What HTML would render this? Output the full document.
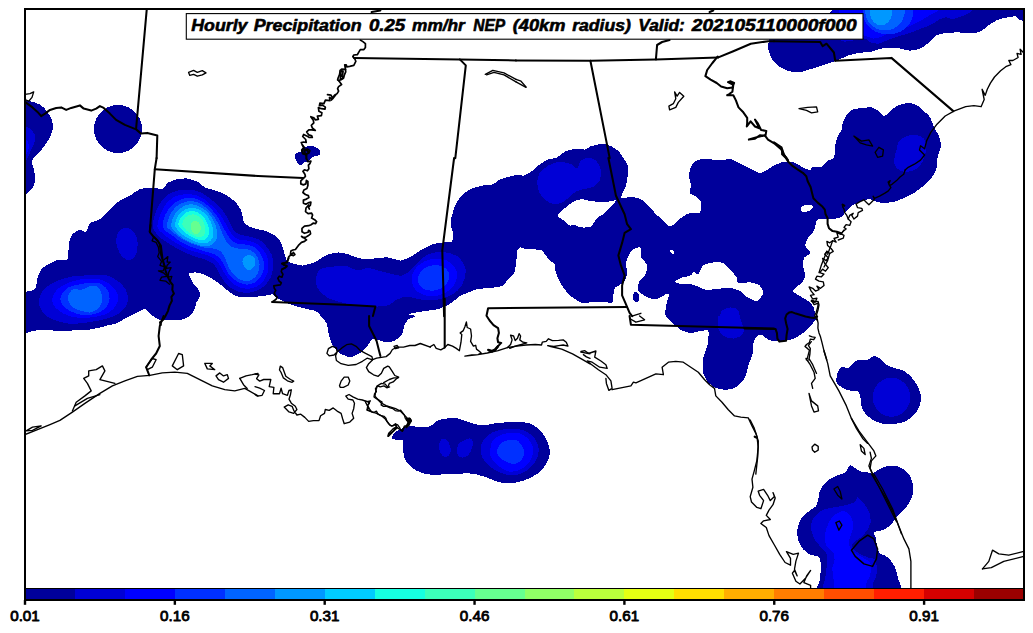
<!DOCTYPE html>
<html><head><meta charset="utf-8"><title>Hourly Precipitation NEP</title>
<style>html,body{margin:0;padding:0;background:#fff;overflow:hidden}svg{display:block}text{font-family:"Liberation Sans",sans-serif;fill:#000}</style></head><body>
<svg width="1033" height="633" viewBox="0 0 1033 633">
<rect width="1033" height="633" fill="#fff"/>
<defs><clipPath id="c"><rect x="25.0" y="9.0" width="999.0" height="579.5"/></clipPath></defs>
<g clip-path="url(#c)" shape-rendering="crispEdges">
<path d="M20.0,100.0 C22.8,100.4 31.0,101.2 35.0,102.5 C39.0,103.8 41.2,105.2 43.8,107.5 C46.2,109.8 48.5,113.1 50.0,116.0 C51.5,118.9 52.8,121.8 53.0,125.0 C53.2,128.2 52.2,131.9 51.0,135.0 C49.8,138.1 48.0,140.8 46.0,143.8 C44.0,146.7 41.1,150.1 39.0,152.5 C36.9,154.9 34.7,156.2 33.5,158.0 C32.3,159.8 31.9,161.0 32.0,163.0 C32.1,165.0 33.5,167.5 34.0,170.0 C34.5,172.5 35.2,175.2 35.0,178.0 C34.8,180.8 34.7,184.2 33.0,187.0 C31.3,189.8 27.5,193.7 25.0,195.0 C22.5,196.3 19.2,210.8 18.0,195.0 C16.8,179.2 17.7,115.8 18.0,100.0 C18.3,84.2 17.2,99.6 20.0,100.0Z" fill="#00009b"/>
<path d="M20.0,124.0 C21.8,124.7 26.6,126.3 29.0,128.0 C31.4,129.7 33.6,131.7 34.5,134.0 C35.4,136.3 35.1,139.3 34.5,142.0 C33.9,144.7 32.1,147.5 31.0,150.0 C29.9,152.5 29.0,155.1 28.0,157.0 C27.0,158.9 26.7,160.5 25.0,161.5 C23.3,162.5 19.2,169.2 18.0,163.0 C16.8,156.8 17.7,130.5 18.0,124.0 C18.3,117.5 18.2,123.3 20.0,124.0Z" fill="#0000d6"/>
<path d="M20.0,136.0 C21.3,136.5 24.5,137.5 26.0,139.0 C27.5,140.5 28.7,143.0 29.0,145.0 C29.3,147.0 28.7,149.2 28.0,151.0 C27.3,152.8 26.7,154.8 25.0,156.0 C23.3,157.2 19.2,161.3 18.0,158.0 C16.8,154.7 17.7,139.7 18.0,136.0 C18.3,132.3 18.7,135.5 20.0,136.0Z" fill="#0000ff"/>
<path d="M142.0,129.0 C142.0,131.1 141.7,133.2 141.2,135.2 C140.6,137.2 139.8,139.2 138.8,141.0 C137.7,142.8 136.4,144.5 135.0,146.0 C133.5,147.4 131.8,148.7 130.0,149.8 C128.2,150.8 126.2,151.6 124.2,152.2 C122.2,152.7 120.1,153.0 118.0,153.0 C115.9,153.0 113.8,152.7 111.8,152.2 C109.8,151.6 107.8,150.8 106.0,149.8 C104.2,148.7 102.5,147.4 101.0,146.0 C99.6,144.5 98.3,142.8 97.2,141.0 C96.2,139.2 95.4,137.2 94.8,135.2 C94.3,133.2 94.0,131.1 94.0,129.0 C94.0,126.9 94.3,124.8 94.8,122.8 C95.4,120.8 96.2,118.8 97.2,117.0 C98.3,115.2 99.6,113.5 101.0,112.0 C102.5,110.6 104.2,109.3 106.0,108.2 C107.8,107.2 109.8,106.4 111.8,105.8 C113.8,105.3 115.9,105.0 118.0,105.0 C120.1,105.0 122.2,105.3 124.2,105.8 C126.2,106.4 128.2,107.2 130.0,108.2 C131.8,109.3 133.5,110.6 135.0,112.0 C136.4,113.5 137.7,115.2 138.8,117.0 C139.8,118.8 140.6,120.8 141.2,122.8 C141.7,124.8 142.0,126.9 142.0,129.0Z" fill="#00009b"/>
<path d="M18.0,291.8 C18.8,286.8 23.0,292.0 25.0,291.8 C27.0,291.5 33.5,290.9 35.0,289.2 C36.5,287.6 36.6,280.5 37.5,278.0 C38.4,275.5 40.3,270.0 42.5,268.0 C44.7,266.0 53.3,261.5 56.2,260.5 C59.2,259.5 66.0,261.1 67.5,259.2 C69.0,257.4 68.2,247.2 68.8,244.2 C69.3,241.3 71.2,235.9 72.5,234.2 C73.8,232.6 78.4,230.3 80.0,230.0 C81.6,229.7 85.1,232.6 86.2,231.8 C87.4,230.9 88.4,224.5 90.0,223.0 C91.6,221.5 97.7,220.9 100.0,219.2 C102.3,217.6 107.7,211.4 110.0,209.2 C112.3,207.1 117.7,202.1 120.0,200.5 C122.3,198.9 127.7,196.8 130.0,195.5 C132.3,194.2 137.4,190.2 140.0,189.2 C142.6,188.3 149.9,187.5 152.5,187.5 C155.1,187.5 160.8,189.8 162.5,189.2 C164.2,188.7 165.8,184.2 167.5,183.0 C169.2,181.8 175.2,179.8 177.5,179.2 C179.8,178.7 185.2,178.2 187.5,178.5 C189.8,178.8 195.5,180.7 197.5,181.8 C199.5,182.8 203.0,186.5 205.0,187.5 C207.0,188.5 212.7,189.7 215.0,190.5 C217.3,191.3 222.7,192.9 225.0,194.2 C227.3,195.6 233.1,199.9 235.0,201.8 C236.9,203.6 240.2,208.2 241.2,210.5 C242.3,212.8 242.7,219.9 243.8,221.8 C244.8,223.6 248.3,225.9 250.0,226.8 C251.7,227.6 255.9,228.7 258.0,229.2 C260.1,229.8 265.7,230.7 268.0,231.8 C270.3,232.8 276.2,236.1 278.0,238.0 C279.8,239.9 282.0,245.4 283.0,248.0 C284.0,250.6 285.3,258.6 286.8,260.5 C288.2,262.4 293.6,263.7 295.5,264.2 C297.4,264.8 300.7,265.8 303.0,265.5 C305.3,265.2 312.9,262.9 315.5,261.8 C318.1,260.6 322.9,256.6 325.5,255.5 C328.1,254.4 335.4,252.6 338.0,252.5 C340.6,252.4 345.7,253.6 348.0,254.2 C350.3,254.9 355.7,257.4 358.0,258.0 C360.3,258.6 365.7,259.2 368.0,259.2 C370.3,259.2 375.7,258.2 378.0,258.0 C380.3,257.8 385.4,257.2 388.0,257.5 C390.6,257.8 397.9,260.6 400.5,260.5 C403.1,260.4 408.2,257.9 410.5,256.8 C412.8,255.6 417.9,252.0 420.5,250.5 C423.1,249.0 430.4,245.2 433.0,244.2 C435.6,243.3 440.8,242.8 443.0,242.5 C445.2,242.2 450.6,242.9 451.8,241.8 C452.9,240.6 453.1,235.2 453.0,233.0 C452.9,230.8 450.4,225.9 450.5,223.0 C450.6,220.1 453.1,211.1 454.2,208.0 C455.4,204.9 458.6,198.9 460.5,196.8 C462.4,194.6 467.9,190.6 470.5,189.2 C473.1,187.9 480.4,186.1 483.0,185.5 C485.6,184.9 491.0,185.0 493.0,184.2 C495.0,183.5 497.8,180.3 500.5,179.2 C503.2,178.2 513.3,175.4 516.0,175.0 C518.7,174.6 521.8,175.9 523.5,175.5 C525.2,175.1 529.2,172.9 531.0,171.8 C532.8,170.6 536.5,167.0 538.5,165.5 C540.5,164.0 546.5,160.1 548.5,159.2 C550.5,158.4 554.0,158.9 556.0,158.0 C558.0,157.1 563.7,152.3 566.0,151.2 C568.3,150.2 573.8,149.0 576.0,148.8 C578.2,148.5 583.0,149.8 584.8,149.5 C586.5,149.2 589.0,146.9 591.0,146.2 C593.0,145.6 599.9,143.8 602.2,143.8 C604.6,143.8 609.1,145.4 611.0,146.2 C612.9,147.1 617.0,149.8 618.5,151.2 C620.0,152.7 622.5,156.6 623.5,158.2 C624.5,159.9 627.0,163.3 627.5,165.0 C628.0,166.7 628.2,170.6 628.0,173.0 C627.8,175.4 626.8,182.6 626.0,185.5 C625.2,188.4 620.4,196.7 621.0,198.0 C621.6,199.3 628.7,196.6 631.0,196.8 C633.3,196.9 639.0,198.2 641.0,199.2 C643.0,200.3 646.8,203.8 648.5,205.5 C650.2,207.2 654.2,212.5 656.0,214.2 C657.8,216.0 662.0,219.1 663.5,220.5 C665.0,221.9 667.3,225.5 668.5,226.0 C669.7,226.5 672.0,225.9 673.5,225.0 C675.0,224.1 679.2,219.3 681.0,218.0 C682.8,216.7 686.3,214.1 688.5,213.5 C690.7,212.9 698.3,213.9 699.8,212.5 C701.2,211.1 701.4,203.6 701.0,201.8 C700.6,199.9 697.3,197.8 696.0,196.8 C694.7,195.7 690.3,194.3 689.8,193.0 C689.2,191.7 691.1,187.5 691.0,185.5 C690.9,183.5 688.9,178.0 689.0,175.5 C689.1,173.0 690.9,166.1 692.2,164.2 C693.6,162.4 697.6,159.7 701.0,159.2 C704.4,158.8 717.5,160.0 721.0,160.0 C724.5,160.0 728.7,158.8 731.0,159.2 C733.3,159.7 738.7,163.1 741.0,164.2 C743.3,165.4 748.8,168.2 751.0,169.2 C753.2,170.3 758.0,172.9 759.8,173.0 C761.5,173.1 764.3,171.4 766.0,170.5 C767.7,169.6 771.9,166.5 774.0,165.5 C776.1,164.5 781.7,162.1 784.0,161.8 C786.3,161.4 791.7,161.8 794.0,162.5 C796.3,163.2 802.0,167.1 804.0,168.0 C806.0,168.9 810.1,170.6 811.0,170.5 C811.9,170.4 810.3,167.9 811.5,167.5 C812.7,167.1 819.6,167.6 821.5,166.8 C823.4,165.9 826.3,161.5 827.8,160.5 C829.2,159.5 833.1,159.8 834.0,158.0 C834.9,156.2 834.8,147.5 835.2,145.0 C835.7,142.5 837.0,138.0 837.8,136.2 C838.5,134.5 840.9,131.6 841.5,130.0 C842.1,128.4 842.2,124.2 842.8,122.5 C843.3,120.8 845.5,116.5 846.5,115.0 C847.5,113.5 849.8,110.8 851.5,110.0 C853.2,109.2 859.2,108.3 861.5,108.0 C863.8,107.7 869.5,107.1 871.5,107.5 C873.5,107.9 877.5,110.2 879.0,111.2 C880.5,112.3 882.5,116.4 884.0,116.2 C885.5,116.1 889.8,111.3 891.5,110.0 C893.2,108.7 897.0,105.8 899.0,105.0 C901.0,104.2 907.0,103.0 909.0,103.0 C911.0,103.0 914.8,104.0 916.5,105.0 C918.2,106.0 922.4,109.8 924.0,111.2 C925.6,112.7 929.1,115.6 930.2,117.5 C931.4,119.4 933.0,125.3 934.0,127.5 C935.0,129.7 938.2,134.2 939.0,136.2 C939.8,138.3 941.0,143.1 941.0,145.0 C941.0,146.9 939.4,151.0 939.0,152.5 C938.6,154.0 937.8,156.2 937.5,158.0 C937.2,159.8 937.2,165.7 936.5,168.0 C935.8,170.3 933.0,176.0 931.5,178.0 C930.0,180.0 926.0,183.8 924.0,185.5 C922.0,187.2 916.3,191.5 914.0,193.0 C911.7,194.5 906.3,197.0 904.0,198.0 C901.7,199.0 896.3,201.2 894.0,201.8 C891.7,202.3 886.0,203.0 884.0,203.0 C882.0,203.0 878.2,202.2 876.5,201.8 C874.8,201.3 871.0,199.2 869.0,199.2 C867.0,199.2 861.3,200.7 859.0,201.8 C856.7,202.8 851.0,206.2 849.0,208.0 C847.0,209.8 843.5,215.4 841.5,216.8 C839.5,218.1 834.3,219.0 831.5,219.2 C828.7,219.5 819.8,217.9 817.8,219.2 C815.7,220.6 815.2,228.3 814.0,230.5 C812.8,232.7 808.8,236.2 807.8,238.0 C806.7,239.8 805.0,243.8 805.2,245.5 C805.5,247.2 810.4,251.5 810.2,253.0 C810.1,254.5 804.8,256.2 804.0,258.0 C803.2,259.8 803.4,266.0 803.5,268.0 C803.6,270.0 805.5,273.8 805.2,275.5 C805.0,277.2 803.0,281.2 801.5,283.0 C800.0,284.8 793.0,289.0 792.8,290.5 C792.5,292.0 797.1,294.2 799.0,295.5 C800.9,296.8 807.2,300.3 809.0,301.8 C810.8,303.2 813.3,306.3 814.0,308.0 C814.7,309.7 814.7,314.8 815.0,316.0 C815.3,317.2 816.9,317.0 816.5,318.0 C816.1,319.0 813.0,323.1 811.5,324.8 C810.0,326.4 806.0,330.6 804.0,332.2 C802.0,333.9 796.3,337.5 794.0,338.5 C791.7,339.5 786.3,340.7 784.0,341.0 C781.7,341.3 775.8,341.1 774.0,341.0 C772.2,340.9 769.6,340.5 768.2,339.8 C766.9,339.0 763.3,335.2 762.0,334.8 C760.7,334.3 758.0,335.0 757.0,336.0 C756.0,337.0 753.7,341.5 753.2,343.5 C752.8,345.5 753.3,350.9 752.8,353.5 C752.2,356.1 749.2,363.1 748.2,366.0 C747.3,368.9 746.0,376.0 744.5,378.5 C743.0,381.0 737.9,385.9 735.8,387.2 C733.6,388.6 728.2,389.8 725.8,389.8 C723.3,389.8 716.7,388.3 714.5,387.2 C712.3,386.2 708.4,382.9 707.0,381.0 C705.6,379.1 703.2,373.6 702.8,371.0 C702.3,368.4 702.7,361.7 703.2,358.5 C703.8,355.3 707.2,346.7 707.8,343.5 C708.3,340.3 709.1,332.5 708.2,331.0 C707.4,329.5 702.8,330.8 700.8,331.0 C698.7,331.2 693.1,333.1 690.8,333.0 C688.4,332.9 682.9,331.0 680.8,329.8 C678.6,328.5 673.8,323.9 672.0,322.2 C670.2,320.6 666.5,318.0 665.8,316.0 C665.0,314.0 665.6,307.9 666.0,305.5 C666.4,303.1 669.0,296.3 669.0,295.0 C669.0,293.7 667.5,293.8 666.0,294.2 C664.5,294.7 658.3,299.0 656.0,299.2 C653.7,299.5 648.0,297.8 646.0,296.8 C644.0,295.7 639.3,292.2 638.5,290.5 C637.7,288.8 638.3,283.5 639.0,281.8 C639.7,280.0 643.8,277.4 644.8,275.5 C645.7,273.6 647.7,267.7 647.2,265.5 C646.8,263.3 641.8,258.9 641.0,256.8 C640.2,254.7 641.2,248.5 640.5,247.5 C639.8,246.5 636.0,247.9 634.8,248.5 C633.5,249.1 630.8,251.3 629.8,253.0 C628.7,254.7 626.3,260.7 626.0,263.0 C625.7,265.3 627.4,271.0 627.2,273.0 C627.1,275.0 625.5,279.2 624.8,280.5 C624.0,281.8 622.2,283.4 621.0,284.2 C619.8,285.1 615.6,286.8 614.8,288.0 C613.9,289.2 613.8,292.6 613.5,294.2 C613.2,295.9 613.8,301.7 612.2,302.5 C610.7,303.3 602.7,301.5 600.0,301.5 C597.3,301.5 590.9,302.4 588.7,302.5 C586.5,302.6 582.6,302.9 581.0,302.5 C579.4,302.1 576.2,299.9 574.8,298.9 C573.4,297.9 569.9,295.6 568.6,294.3 C567.3,293.0 565.0,289.6 563.9,288.1 C562.8,286.6 560.3,283.2 559.3,281.1 C558.3,279.0 556.0,272.4 555.4,270.3 C554.8,268.2 554.9,264.4 554.3,263.3 C553.7,262.2 551.0,262.0 550.0,261.0 C549.0,260.0 546.4,256.1 545.3,254.8 C544.2,253.5 542.9,250.4 540.7,249.8 C538.5,249.2 529.1,249.7 526.7,249.4 C524.3,249.1 521.6,247.2 520.5,247.3 C519.4,247.4 517.8,249.0 517.4,250.1 C517.0,251.2 516.9,254.5 516.7,256.3 C516.5,258.1 516.3,263.5 515.9,265.6 C515.5,267.7 514.5,272.5 513.6,274.1 C512.7,275.7 509.5,278.3 508.2,279.6 C506.9,280.9 504.1,284.6 502.7,285.5 C501.3,286.4 497.7,287.0 495.8,287.3 C493.9,287.6 488.9,287.8 486.5,288.1 C484.1,288.4 477.8,289.1 475.6,289.6 C473.4,290.1 469.7,292.0 467.9,292.7 C466.1,293.4 461.5,295.0 460.1,295.8 C458.7,296.6 456.8,298.7 455.5,299.7 C454.2,300.7 451.1,303.3 449.3,304.3 C447.5,305.3 441.3,307.6 440.0,308.2 C438.7,308.8 440.3,308.8 438.0,309.2 C435.7,309.7 424.0,311.2 420.5,311.8 C417.0,312.3 408.6,313.8 408.0,314.2 C407.4,314.7 415.5,315.4 415.5,316.0 C415.5,316.6 409.3,318.6 408.0,319.8 C406.7,320.9 405.0,324.2 404.2,326.0 C403.5,327.8 402.9,333.0 401.8,334.8 C400.6,336.5 396.1,340.1 394.2,341.0 C392.4,341.9 387.4,342.4 385.5,342.2 C383.6,342.1 379.6,340.0 378.0,339.8 C376.4,339.5 373.2,338.7 371.8,339.8 C370.3,340.8 367.0,346.9 365.5,348.5 C364.0,350.1 361.0,352.5 359.2,353.5 C357.5,354.5 352.7,357.2 350.5,357.2 C348.3,357.2 342.5,354.8 340.5,353.5 C338.5,352.2 334.3,348.0 333.0,346.0 C331.7,344.0 330.0,338.6 329.2,336.0 C328.5,333.4 327.5,325.6 326.8,323.5 C326.0,321.4 323.7,319.4 322.5,318.0 C321.3,316.6 318.1,312.4 316.3,311.4 C314.5,310.4 309.2,309.6 307.0,309.1 C304.8,308.6 299.9,307.3 297.7,306.7 C295.5,306.1 290.2,304.3 288.4,303.6 C286.6,302.9 283.6,301.2 282.2,300.5 C280.8,299.8 277.1,298.1 276.0,297.4 C274.9,296.7 274.3,294.5 272.9,294.3 C271.5,294.1 265.9,295.6 263.6,295.9 C261.3,296.2 255.3,296.9 252.8,297.1 C250.3,297.3 244.3,297.7 242.0,297.4 C239.7,297.1 234.7,295.4 232.7,294.3 C230.7,293.2 226.7,289.6 224.9,288.2 C223.1,286.8 219.2,283.4 217.2,282.0 C215.2,280.6 210.1,277.6 207.9,276.5 C205.7,275.4 200.8,273.1 198.6,272.7 C196.4,272.3 190.0,272.3 189.3,273.4 C188.6,274.5 191.3,280.1 192.4,282.0 C193.5,283.9 197.7,288.1 198.6,289.7 C199.5,291.3 200.4,294.3 200.1,295.9 C199.8,297.5 196.6,301.6 196.0,303.0 C195.4,304.4 195.7,306.8 195.1,308.2 C194.5,309.6 192.3,313.9 190.8,315.2 C189.3,316.5 184.2,318.9 182.0,319.5 C179.8,320.1 174.0,320.3 171.6,320.4 C169.2,320.5 163.1,320.4 161.1,320.0 C159.1,319.6 155.6,317.8 154.2,316.9 C152.8,316.0 150.0,313.4 148.9,312.5 C147.8,311.6 145.6,309.2 144.6,309.0 C143.6,308.8 141.5,310.2 140.2,310.8 C138.9,311.4 135.1,313.4 133.3,314.3 C131.5,315.2 126.3,317.6 124.5,318.6 C122.7,319.6 119.6,322.2 117.6,323.0 C115.6,323.8 109.5,325.0 107.1,325.6 C104.7,326.2 99.1,327.7 96.7,328.2 C94.3,328.7 89.0,329.7 86.2,330.0 C83.4,330.3 75.6,330.4 72.3,330.5 C69.0,330.6 60.8,330.9 57.5,330.8 C54.2,330.7 47.2,330.0 44.4,330.0 C41.6,330.0 36.1,330.4 33.9,330.8 C31.7,331.2 27.1,333.0 25.2,333.4 C23.3,333.8 18.8,338.9 18.0,334.0 C17.2,329.1 17.2,296.7 18.0,291.8Z" fill="#00009b"/>
<path d="M558.0,214.2 C558.5,213.3 561.6,210.7 563.5,209.2 C565.3,207.7 571.4,202.9 573.4,201.7 C575.5,200.5 578.9,199.3 580.9,199.2 C583.0,199.1 588.3,200.6 590.9,201.0 C593.6,201.3 600.5,202.5 603.4,202.5 C606.3,202.4 615.2,199.8 615.9,200.5 C616.6,201.1 611.1,206.3 609.7,207.9 C608.2,209.6 604.9,213.0 603.4,214.2 C602.0,215.4 598.6,216.5 597.2,217.9 C595.7,219.4 592.8,225.6 590.9,226.7 C589.0,227.8 582.8,227.6 580.9,227.4 C579.0,227.2 576.0,225.2 574.7,224.9 C573.4,224.7 571.0,226.0 569.7,225.4 C568.4,224.9 564.8,221.5 563.5,220.4 C562.1,219.4 559.1,217.4 558.5,216.7 C557.8,216.0 557.4,215.1 558.0,214.2Z" fill="#fff"/>
<path d="M675.3,281.6 C675.3,280.9 679.0,278.6 680.8,277.9 C682.6,277.2 689.4,276.1 690.8,275.4 C692.3,274.7 692.4,271.8 693.3,271.6 C694.2,271.5 697.2,274.9 698.3,274.1 C699.5,273.4 701.6,266.8 703.3,265.4 C705.1,264.0 711.0,262.7 713.3,262.4 C715.6,262.1 721.2,262.0 723.3,262.9 C725.3,263.8 729.2,268.6 730.8,270.4 C732.4,272.1 736.2,276.4 737.0,277.9 C737.9,279.3 736.7,282.4 738.3,282.9 C739.9,283.4 748.3,282.1 750.8,282.4 C753.2,282.7 758.1,284.1 759.5,285.4 C761.0,286.6 763.5,291.1 763.2,292.9 C763.0,294.7 758.8,300.3 757.0,300.9 C755.3,301.4 750.2,298.9 748.3,297.9 C746.4,296.8 742.8,292.8 740.8,291.6 C738.7,290.5 733.7,288.2 730.8,287.9 C727.9,287.6 718.7,288.9 715.8,289.1 C712.9,289.4 707.8,290.2 705.8,289.9 C703.8,289.6 700.1,287.3 698.3,286.6 C696.6,285.9 692.9,284.4 690.8,284.1 C688.8,283.8 682.6,284.4 680.8,284.1 C679.0,283.8 675.3,282.4 675.3,281.6Z" fill="#fff"/>
<path d="M669.9,250.4 L672.3,249.4 L674.3,251.9 L673.3,254.4 L670.9,252.9Z" fill="#fff"/>
<path d="M801.0,207.9 C801.3,206.9 802.2,205.9 804.0,205.4 C805.7,204.9 810.0,204.5 811.5,204.9 C813.0,205.4 813.4,206.9 813.0,207.9 C812.5,208.9 810.8,210.3 809.0,210.9 C807.1,211.6 803.3,212.2 802.0,211.7 C800.6,211.2 800.6,209.0 801.0,207.9Z" fill="#fff"/>
<path d="M632.9,296.6 C633.0,295.4 633.2,293.6 633.9,292.9 C634.6,292.1 636.3,291.7 637.1,292.1 C638.0,292.5 638.6,294.0 638.9,295.4 C639.2,296.7 639.4,299.2 638.9,300.4 C638.4,301.5 636.8,302.2 635.9,302.1 C635.0,302.0 633.9,300.8 633.4,299.9 C632.9,298.9 632.8,297.8 632.9,296.6Z" fill="#00009b"/>
<path d="M152.7,227.3 C152.1,224.0 153.7,219.4 154.6,215.9 C155.6,212.5 156.8,209.5 158.4,206.4 C160.0,203.4 161.8,200.3 164.1,197.9 C166.5,195.5 169.5,193.6 172.7,192.2 C175.8,190.9 179.4,190.1 183.1,189.8 C186.7,189.4 191.0,189.6 194.5,190.3 C197.9,191.1 201.1,192.5 203.9,194.1 C206.8,195.7 209.0,197.8 211.5,199.8 C214.1,201.9 216.8,203.9 219.1,206.4 C221.5,209.0 223.9,212.1 225.8,215.0 C227.6,217.8 229.1,220.8 230.5,223.5 C231.9,226.2 232.6,229.2 234.3,231.1 C236.0,233.0 238.2,233.9 240.9,234.9 C243.6,235.8 247.4,236.0 250.4,236.8 C253.4,237.6 256.4,238.2 258.9,239.6 C261.5,241.1 263.5,242.9 265.6,245.3 C267.6,247.7 270.0,250.9 271.3,253.9 C272.5,256.9 273.0,260.2 273.2,263.3 C273.3,266.5 273.0,269.8 272.2,272.8 C271.4,275.8 270.2,278.8 268.4,281.4 C266.7,283.9 264.3,286.3 261.8,288.0 C259.3,289.7 256.3,291.0 253.2,291.8 C250.2,292.6 246.9,293.1 243.8,292.7 C240.6,292.4 237.1,291.3 234.3,289.9 C231.4,288.5 228.9,286.4 226.7,284.2 C224.5,282.0 222.6,279.1 221.0,276.6 C219.4,274.1 218.6,271.2 217.2,269.0 C215.8,266.8 214.5,264.9 212.5,263.3 C210.4,261.8 207.7,260.7 204.9,259.6 C202.0,258.4 198.6,257.8 195.4,256.7 C192.2,255.6 189.1,254.3 185.9,252.9 C182.8,251.5 179.6,249.9 176.4,248.2 C173.3,246.4 170.0,244.5 167.0,242.5 C164.0,240.4 160.8,238.4 158.4,235.8 C156.1,233.3 153.4,230.6 152.7,227.3Z" fill="#0000d6"/>
<path d="M157.5,227.3 C156.8,224.5 158.4,220.0 159.4,216.9 C160.3,213.7 161.6,211.0 163.2,208.3 C164.8,205.7 166.6,202.8 168.9,200.8 C171.1,198.7 173.6,197.1 176.4,196.0 C179.3,194.9 182.8,194.3 185.9,194.1 C189.1,194.0 192.4,194.3 195.4,195.1 C198.4,195.9 201.4,197.3 203.9,198.9 C206.5,200.4 208.4,202.5 210.6,204.6 C212.8,206.6 215.2,208.8 217.2,211.2 C219.3,213.6 221.2,216.1 222.9,218.8 C224.6,221.5 226.1,224.6 227.7,227.3 C229.2,230.0 230.5,232.8 232.4,234.9 C234.3,236.9 236.5,238.7 239.0,239.6 C241.6,240.6 244.7,239.9 247.6,240.6 C250.4,241.2 253.6,242.0 256.1,243.4 C258.6,244.9 260.9,246.9 262.7,249.1 C264.6,251.3 266.2,254.2 267.1,256.7 C268.0,259.2 268.4,261.6 268.4,264.3 C268.5,267.0 268.3,270.1 267.5,272.8 C266.7,275.5 265.3,278.3 263.7,280.4 C262.1,282.6 260.0,284.4 258.0,285.7 C255.9,287.0 253.7,287.9 251.4,288.4 C249.0,288.8 246.3,288.8 243.8,288.4 C241.2,287.9 238.6,287.0 236.2,285.7 C233.8,284.4 231.4,282.4 229.6,280.4 C227.7,278.4 226.2,276.0 224.8,273.8 C223.4,271.6 222.4,269.3 221.0,267.1 C219.6,264.9 218.3,262.4 216.3,260.5 C214.2,258.6 211.5,257.0 208.7,255.8 C205.8,254.5 202.4,253.9 199.2,252.9 C196.0,252.0 192.9,251.3 189.7,250.1 C186.6,248.8 183.4,247.1 180.2,245.3 C177.1,243.6 173.6,241.5 170.8,239.6 C167.9,237.7 165.4,236.0 163.2,233.9 C161.0,231.9 158.1,230.2 157.5,227.3Z" fill="#0000ff"/>
<path d="M162.8,227.3 C162.3,224.9 163.3,220.7 164.1,217.8 C165.0,215.0 166.3,212.6 167.9,210.2 C169.5,207.9 171.5,205.3 173.6,203.6 C175.7,201.9 177.9,200.8 180.2,199.8 C182.6,198.9 185.1,198.1 187.8,197.9 C190.5,197.8 193.7,198.1 196.4,198.9 C199.0,199.7 201.6,201.1 203.9,202.7 C206.3,204.2 208.5,206.3 210.6,208.3 C212.6,210.4 214.5,212.6 216.3,215.0 C218.0,217.4 219.6,220.0 221.0,222.6 C222.4,225.1 223.4,227.6 224.8,230.2 C226.2,232.7 227.7,235.5 229.6,237.7 C231.4,240.0 233.7,242.3 236.2,243.4 C238.7,244.5 241.9,243.8 244.7,244.4 C247.6,244.9 250.8,245.4 253.2,246.7 C255.7,247.9 257.9,250.0 259.5,252.0 C261.1,254.0 262.0,256.4 262.7,258.6 C263.5,260.8 264.1,262.9 264.1,265.2 C264.1,267.6 263.5,270.6 262.7,272.8 C262.0,275.0 260.9,276.9 259.5,278.5 C258.1,280.2 256.2,281.7 254.2,282.7 C252.2,283.7 249.8,284.5 247.6,284.6 C245.3,284.7 243.1,284.1 240.9,283.2 C238.7,282.4 236.3,281.0 234.3,279.5 C232.2,277.9 230.2,275.8 228.6,273.8 C227.0,271.7 226.1,269.5 224.8,267.1 C223.5,264.8 222.6,261.6 221.0,259.6 C219.4,257.5 217.7,256.1 215.3,254.8 C212.9,253.5 209.6,252.9 206.8,252.0 C203.9,251.0 201.3,250.1 198.3,249.1 C195.3,248.1 191.8,247.2 188.8,245.9 C185.8,244.6 182.9,243.2 180.2,241.5 C177.6,239.9 174.9,237.4 172.7,235.8 C170.4,234.3 168.6,233.5 167.0,232.1 C165.3,230.6 163.3,229.7 162.8,227.3Z" fill="#0030ff"/>
<path d="M167.0,226.4 C166.8,224.6 167.7,221.1 168.5,218.8 C169.3,216.4 170.4,214.2 171.7,212.1 C173.0,210.1 174.6,208.0 176.4,206.4 C178.3,204.9 180.9,203.5 183.1,202.7 C185.3,201.8 187.3,201.2 189.7,201.1 C192.1,201.1 194.9,201.4 197.3,202.3 C199.7,203.1 201.9,204.6 203.9,206.1 C206.0,207.6 207.8,209.2 209.6,211.2 C211.4,213.2 213.2,215.5 214.8,217.8 C216.3,220.2 217.9,222.9 219.1,225.4 C220.4,227.9 221.2,230.5 222.3,233.0 C223.4,235.5 224.2,238.3 225.8,240.6 C227.3,242.9 229.2,245.3 231.4,246.7 C233.7,248.0 236.5,248.1 239.0,248.6 C241.6,249.0 244.2,248.6 246.6,249.1 C249.0,249.7 251.4,250.5 253.2,252.0 C255.1,253.4 256.6,255.6 257.6,257.6 C258.7,259.7 259.4,261.9 259.5,264.3 C259.6,266.7 259.1,269.8 258.4,271.9 C257.6,274.0 256.5,275.6 255.2,277.0 C253.8,278.4 252.1,279.8 250.4,280.4 C248.7,281.0 246.6,281.0 244.7,280.8 C242.8,280.5 240.9,279.9 239.0,278.9 C237.2,277.9 235.3,276.4 233.7,274.7 C232.1,273.1 230.7,271.1 229.6,269.0 C228.4,267.0 227.6,264.6 226.7,262.4 C225.8,260.2 225.0,257.6 223.9,255.8 C222.8,253.9 221.8,252.2 220.1,251.0 C218.3,249.8 216.0,249.1 213.4,248.6 C210.9,248.0 207.7,248.3 204.9,247.8 C202.0,247.3 199.2,246.3 196.4,245.3 C193.5,244.4 190.5,243.4 187.8,242.1 C185.1,240.8 182.6,239.3 180.2,237.7 C177.9,236.2 175.4,234.4 173.6,233.0 C171.8,231.6 170.3,230.3 169.2,229.2 C168.1,228.1 167.1,228.1 167.0,226.4Z" fill="#0064ff"/>
<path d="M171.1,225.4 C171.1,223.7 171.9,220.8 172.7,218.8 C173.4,216.7 174.2,214.8 175.5,213.1 C176.8,211.3 178.3,209.7 180.2,208.3 C182.1,207.0 184.7,205.6 186.9,204.9 C189.1,204.3 191.3,204.2 193.5,204.6 C195.7,204.9 198.1,205.8 200.2,206.8 C202.2,207.8 204.1,209.1 205.8,210.6 C207.6,212.1 209.2,213.9 210.6,215.9 C212.0,217.9 213.4,220.4 214.4,222.6 C215.4,224.8 216.2,227.0 216.7,229.2 C217.1,231.4 217.4,233.8 217.2,235.8 C217.0,237.9 216.4,239.9 215.3,241.5 C214.2,243.1 212.5,244.5 210.6,245.3 C208.7,246.1 206.3,246.4 203.9,246.3 C201.6,246.1 198.9,245.2 196.4,244.4 C193.8,243.6 191.1,242.6 188.8,241.5 C186.4,240.4 184.2,239.2 182.1,237.7 C180.1,236.3 178.0,234.4 176.4,233.0 C174.9,231.6 173.5,230.5 172.7,229.2 C171.8,227.9 171.1,227.1 171.1,225.4Z" fill="#0098ff"/>
<path d="M174.9,225.0 C174.9,223.4 175.7,220.6 176.4,218.8 C177.2,216.9 178.0,215.5 179.3,214.0 C180.6,212.6 182.3,211.3 184.0,210.2 C185.8,209.2 187.8,208.3 189.7,208.0 C191.6,207.6 193.5,207.9 195.4,208.3 C197.3,208.8 199.4,209.6 201.1,210.6 C202.8,211.6 204.4,212.9 205.8,214.4 C207.3,215.9 208.6,217.9 209.6,219.7 C210.7,221.6 211.5,223.4 212.1,225.4 C212.7,227.5 213.4,230.0 213.4,232.1 C213.5,234.1 213.3,236.1 212.5,237.7 C211.7,239.4 210.3,241.2 208.7,242.1 C207.1,243.0 205.1,243.4 203.0,243.4 C200.9,243.4 198.6,242.8 196.4,242.1 C194.1,241.4 191.8,240.1 189.7,239.1 C187.7,238.0 185.8,237.1 184.0,235.8 C182.3,234.6 180.6,232.7 179.3,231.5 C178.0,230.2 177.2,229.3 176.4,228.3 C175.7,227.2 174.9,226.6 174.9,225.0Z" fill="#00ccff"/>
<path d="M178.3,224.5 C178.1,222.9 179.1,220.9 179.9,219.3 C180.7,217.8 181.8,216.2 183.1,215.0 C184.4,213.7 186.1,212.4 187.8,211.8 C189.6,211.1 191.7,211.0 193.5,211.2 C195.3,211.4 197.2,212.1 198.8,213.1 C200.5,214.0 202.1,215.4 203.4,216.9 C204.7,218.4 205.9,220.2 206.8,222.0 C207.7,223.8 208.3,225.8 208.7,227.7 C209.1,229.6 209.4,231.6 209.1,233.4 C208.8,235.2 208.0,237.2 206.8,238.3 C205.6,239.4 203.8,240.1 202.1,240.2 C200.3,240.3 198.3,239.7 196.4,239.1 C194.5,238.4 192.6,237.5 190.7,236.4 C188.8,235.3 186.6,233.9 185.0,232.6 C183.4,231.4 182.3,230.2 181.2,228.8 C180.1,227.5 178.6,226.0 178.3,224.5Z" fill="#16ffe1"/>
<path d="M182.1,224.5 C182.0,222.9 183.1,220.8 184.0,219.3 C185.0,217.9 186.3,216.4 187.8,215.6 C189.3,214.7 191.5,214.3 193.1,214.4 C194.8,214.5 196.2,215.0 197.7,215.9 C199.2,216.8 200.9,218.2 202.1,219.7 C203.2,221.2 204.0,223.2 204.5,225.0 C205.0,226.9 205.4,229.0 205.3,230.7 C205.2,232.4 204.9,234.2 203.9,235.3 C203.0,236.3 201.2,237.1 199.6,237.2 C198.0,237.3 196.3,236.6 194.5,235.8 C192.7,235.1 190.4,233.8 188.8,232.6 C187.2,231.4 186.1,230.2 185.0,228.8 C183.9,227.5 182.3,226.0 182.1,224.5Z" fill="#3cffba"/>
<path d="M190.7,225.4 C190.8,224.1 191.2,222.8 192.0,222.0 C192.8,221.2 194.3,220.6 195.4,220.7 C196.5,220.8 197.9,221.6 198.8,222.6 C199.7,223.5 200.5,224.9 200.7,226.4 C200.9,227.8 200.8,229.8 200.2,231.1 C199.5,232.4 198.0,233.6 196.9,233.9 C195.8,234.3 194.5,233.7 193.5,233.0 C192.6,232.3 191.7,230.8 191.2,229.6 C190.8,228.3 190.5,226.7 190.7,225.4Z" fill="#66ff90"/>
<path d="M242.4,261.4 C242.3,259.9 242.9,258.7 243.8,257.6 C244.6,256.6 246.1,255.7 247.6,255.4 C249.0,255.1 251.0,255.1 252.3,255.8 C253.6,256.4 254.7,258.1 255.2,259.6 C255.6,261.0 255.6,262.8 255.2,264.3 C254.7,265.8 253.5,267.7 252.3,268.6 C251.1,269.6 249.5,270.2 248.1,270.0 C246.8,269.7 245.3,268.6 244.3,267.1 C243.4,265.7 242.5,263.0 242.4,261.4Z" fill="#0098ff"/>
<path d="M116.1,240.4 C116.3,237.5 117.2,233.8 118.6,231.7 C120.1,229.6 122.6,228.1 124.9,227.9 C127.2,227.7 130.4,228.8 132.4,230.4 C134.4,232.1 136.0,235.0 136.9,237.9 C137.7,240.8 137.7,244.8 137.4,247.9 C137.0,251.0 136.3,254.6 134.9,256.6 C133.4,258.7 130.7,260.4 128.6,260.4 C126.5,260.4 124.2,258.5 122.4,256.6 C120.6,254.8 118.9,251.9 117.9,249.2 C116.8,246.5 116.0,243.3 116.1,240.4Z" fill="#0000d6"/>
<path d="M38.8,303.0 C38.5,300.5 39.1,298.3 40.0,296.0 C41.0,293.7 42.2,291.2 44.4,289.0 C46.6,286.8 49.9,284.7 53.1,282.9 C56.3,281.2 59.8,279.7 63.6,278.6 C67.3,277.4 71.4,276.5 75.8,275.9 C80.1,275.4 85.1,275.6 89.7,275.4 C94.3,275.2 99.6,274.2 103.6,274.7 C107.7,275.3 110.9,276.8 114.1,278.6 C117.3,280.4 120.6,283.1 122.8,285.5 C125.0,288.0 126.3,290.8 127.2,293.4 C128.0,296.0 128.1,298.7 127.7,301.2 C127.2,303.7 126.2,306.0 124.5,308.2 C122.9,310.4 120.5,312.5 117.6,314.3 C114.7,316.0 110.9,317.5 107.1,318.6 C103.3,319.8 99.0,320.5 94.9,321.2 C90.9,322.0 86.8,322.6 82.7,323.0 C78.7,323.4 74.6,324.2 70.5,323.9 C66.5,323.6 62.1,322.4 58.3,321.2 C54.6,320.1 50.6,318.6 47.9,316.9 C45.1,315.2 43.3,313.1 41.8,310.8 C40.3,308.5 39.1,305.4 38.8,303.0Z" fill="#0000d6"/>
<path d="M52.2,299.5 C52.4,297.3 53.4,294.7 54.9,292.5 C56.3,290.3 58.3,288.1 61.0,286.4 C63.6,284.7 67.2,283.2 70.5,282.1 C73.9,280.9 77.2,280.0 81.0,279.4 C84.8,278.8 89.4,278.4 93.2,278.6 C97.0,278.8 100.4,279.3 103.6,280.6 C106.8,282.0 110.0,284.1 112.3,286.4 C114.7,288.7 116.7,291.6 117.6,294.2 C118.5,296.9 118.3,299.6 117.6,302.1 C116.9,304.5 115.3,307.0 113.2,309.1 C111.2,311.1 108.7,312.9 105.4,314.3 C102.0,315.6 97.2,316.7 93.2,317.2 C89.1,317.8 85.1,318.0 81.0,317.8 C76.9,317.6 72.4,317.2 68.8,316.0 C65.2,314.9 61.7,312.5 59.2,310.8 C56.7,309.1 55.1,307.5 54.0,305.6 C52.8,303.7 52.1,301.6 52.2,299.5Z" fill="#0000ff"/>
<path d="M60.4,298.6 C60.6,296.7 61.3,294.4 62.7,292.5 C64.1,290.6 66.3,288.6 68.8,287.3 C71.3,286.0 74.0,285.4 77.5,284.7 C81.0,283.9 86.2,283.2 89.7,282.9 C93.2,282.6 95.8,282.2 98.4,282.9 C101.0,283.6 103.6,285.4 105.4,287.3 C107.2,289.2 108.6,291.8 109.2,294.2 C109.8,296.7 109.7,299.6 108.9,302.1 C108.1,304.5 106.5,307.2 104.5,309.1 C102.5,310.9 99.7,312.4 96.7,313.4 C93.6,314.4 89.7,315.1 86.2,315.1 C82.7,315.1 79.0,314.4 75.8,313.4 C72.6,312.4 69.4,310.6 67.0,309.1 C64.7,307.5 62.9,305.6 61.8,303.8 C60.7,302.1 60.3,300.5 60.4,298.6Z" fill="#0030ff"/>
<path d="M67.9,297.7 C67.9,295.8 68.6,294.0 69.7,292.5 C70.7,291.0 72.1,289.5 74.0,289.0 C75.9,288.6 78.4,290.3 81.0,289.9 C83.6,289.5 87.2,287.1 89.7,286.4 C92.2,285.7 94.0,285.2 95.8,285.9 C97.6,286.6 99.5,288.8 100.5,290.8 C101.5,292.7 101.8,295.4 101.9,297.7 C102.0,300.1 101.9,302.7 101.0,304.7 C100.1,306.7 98.6,308.3 96.7,309.6 C94.8,310.9 92.3,312.3 89.7,312.5 C87.1,312.7 83.6,311.5 81.0,310.8 C78.4,310.1 75.9,309.3 74.0,308.2 C72.1,307.0 70.7,305.6 69.7,303.8 C68.6,302.1 67.9,299.6 67.9,297.7Z" fill="#0064ff"/>
<path d="M316.7,275.4 C317.4,273.1 317.7,270.6 320.4,269.1 C323.1,267.7 328.8,267.2 332.9,266.6 C337.1,266.1 341.2,265.3 345.4,265.9 C349.6,266.5 354.2,270.1 357.9,270.4 C361.6,270.7 364.6,267.9 367.9,267.9 C371.2,267.9 373.7,269.3 377.9,270.4 C382.0,271.4 388.7,273.3 392.9,274.1 C397.0,275.0 399.5,276.4 402.9,275.4 C406.2,274.3 409.5,270.8 412.9,267.9 C416.2,265.0 419.5,260.4 422.8,257.9 C426.2,255.4 429.1,253.8 432.8,252.9 C436.6,252.0 441.1,251.8 445.3,252.4 C449.5,253.0 454.5,254.1 457.8,256.6 C461.1,259.2 464.2,263.9 465.3,267.9 C466.3,271.8 465.3,276.6 464.0,280.4 C462.8,284.1 460.5,287.7 457.8,290.4 C455.1,293.1 452.0,294.9 447.8,296.6 C443.6,298.3 437.8,299.9 432.8,300.4 C427.8,300.8 422.0,299.7 417.8,299.1 C413.7,298.5 411.2,296.6 407.9,296.6 C404.5,296.6 401.2,297.7 397.9,299.1 C394.5,300.6 392.0,304.1 387.9,305.4 C383.7,306.6 377.9,306.6 372.9,306.6 C367.9,306.6 362.9,306.0 357.9,305.4 C352.9,304.7 347.9,304.1 342.9,302.9 C337.9,301.6 331.9,299.9 327.9,297.9 C324.0,295.8 321.2,292.9 319.2,290.4 C317.2,287.9 316.4,285.4 315.9,282.9 C315.5,280.4 315.9,277.7 316.7,275.4Z" fill="#0000d6"/>
<path d="M456.5,271.4 C457.0,273.0 457.1,274.6 457.0,276.3 C456.9,277.9 456.6,279.6 456.0,281.2 C455.4,282.8 454.5,284.4 453.4,285.8 C452.4,287.3 451.0,288.7 449.6,289.9 C448.1,291.1 446.4,292.2 444.7,293.1 C443.0,294.0 441.0,294.7 439.1,295.3 C437.2,295.8 435.2,296.1 433.2,296.2 C431.2,296.3 429.2,296.2 427.4,295.8 C425.5,295.5 423.6,295.0 422.0,294.2 C420.4,293.5 418.8,292.5 417.5,291.5 C416.2,290.4 415.0,289.1 414.1,287.8 C413.2,286.4 412.5,284.9 412.1,283.3 C411.7,281.8 411.5,280.1 411.6,278.5 C411.7,276.9 412.1,275.2 412.7,273.6 C413.3,272.0 414.2,270.4 415.2,269.0 C416.3,267.5 417.6,266.1 419.1,264.9 C420.5,263.7 422.2,262.6 423.9,261.7 C425.7,260.8 427.6,260.0 429.5,259.5 C431.5,259.0 433.5,258.7 435.4,258.6 C437.4,258.5 439.4,258.6 441.3,258.9 C443.2,259.3 445.0,259.8 446.6,260.5 C448.3,261.3 449.9,262.2 451.2,263.3 C452.5,264.4 453.6,265.6 454.5,267.0 C455.4,268.4 456.1,269.9 456.5,271.4Z" fill="#0000ff"/>
<path d="M449.0,273.7 C449.3,274.8 449.4,275.9 449.3,277.0 C449.3,278.1 449.0,279.3 448.6,280.3 C448.2,281.4 447.5,282.5 446.8,283.5 C446.0,284.5 445.1,285.4 444.1,286.3 C443.1,287.1 441.9,287.9 440.7,288.5 C439.5,289.1 438.1,289.6 436.8,290.0 C435.5,290.3 434.1,290.5 432.7,290.6 C431.3,290.7 429.9,290.6 428.6,290.4 C427.4,290.2 426.1,289.8 424.9,289.3 C423.8,288.9 422.7,288.2 421.8,287.5 C420.9,286.8 420.1,285.9 419.5,285.0 C418.9,284.1 418.4,283.1 418.1,282.0 C417.8,281.0 417.7,279.9 417.8,278.8 C417.9,277.7 418.1,276.5 418.6,275.4 C419.0,274.3 419.6,273.3 420.4,272.3 C421.1,271.3 422.0,270.3 423.0,269.5 C424.1,268.7 425.2,267.9 426.4,267.3 C427.7,266.7 429.0,266.2 430.3,265.8 C431.7,265.4 433.1,265.2 434.4,265.1 C435.8,265.1 437.2,265.1 438.5,265.4 C439.8,265.6 441.1,265.9 442.2,266.4 C443.4,266.9 444.4,267.5 445.3,268.3 C446.2,269.0 447.1,269.8 447.7,270.8 C448.3,271.7 448.8,272.7 449.0,273.7Z" fill="#0030ff"/>
<path d="M537.2,183.0 C537.2,179.6 537.9,175.9 539.7,173.0 C541.6,170.1 545.1,167.4 548.5,165.5 C551.8,163.6 556.0,162.0 559.7,161.8 C563.5,161.5 568.0,163.2 571.0,164.2 C573.9,165.3 575.5,168.6 577.2,168.0 C578.9,167.4 579.1,162.2 580.9,160.5 C582.8,158.8 585.9,158.0 588.4,158.0 C590.9,158.0 593.8,158.4 595.9,160.5 C598.0,162.6 600.3,167.2 600.9,170.5 C601.5,173.8 600.9,177.8 599.7,180.5 C598.4,183.2 596.1,185.3 593.4,186.7 C590.7,188.2 586.3,188.4 583.4,189.2 C580.5,190.1 578.0,190.7 575.9,191.7 C573.9,192.8 573.0,193.8 571.0,195.5 C568.9,197.1 566.2,200.3 563.5,201.7 C560.7,203.2 557.6,204.4 554.7,204.2 C551.8,204.0 548.5,202.3 546.0,200.5 C543.5,198.6 541.2,195.9 539.7,193.0 C538.3,190.1 537.2,186.3 537.2,183.0Z" fill="#0000d6"/>
<path d="M896.5,150.0 C897.3,146.8 897.3,143.5 899.0,141.2 C900.7,139.0 903.6,137.3 906.5,136.2 C909.4,135.2 913.6,134.6 916.5,135.0 C919.4,135.4 922.3,136.7 924.0,138.8 C925.7,140.8 926.5,144.3 926.5,147.5 C926.5,150.7 925.0,155.0 924.0,158.0 C923.0,161.0 922.1,163.4 920.2,165.5 C918.4,167.6 915.5,169.5 912.8,170.5 C910.0,171.5 906.7,172.2 904.0,171.8 C901.3,171.3 898.2,169.9 896.5,168.0 C894.8,166.1 894.0,163.5 894.0,160.5 C894.0,157.5 895.7,153.2 896.5,150.0Z" fill="#0000d6"/>
<path d="M718.5,316.0 C718.3,318.0 717.7,325.2 718.5,328.5 C719.3,331.8 721.0,334.3 723.5,336.0 C726.0,337.7 730.4,338.7 733.5,338.5 C736.6,338.3 740.6,336.4 742.2,334.8 C743.9,333.1 743.7,330.8 743.5,328.5 C743.3,326.2 741.6,323.0 741.0,321.0 C740.4,319.0 740.4,318.2 739.8,316.2 C739.1,314.3 738.9,310.7 737.2,309.2 C735.6,307.8 732.2,307.3 729.8,307.5 C727.2,307.7 723.9,309.0 722.2,310.5 C720.6,312.0 720.4,315.3 719.8,316.2 C719.1,317.2 718.7,314.0 718.5,316.0Z" fill="#0000d6"/>
<path d="M295.3,154.6 C295.6,153.9 297.0,153.0 297.8,152.6 C298.6,152.2 300.5,152.1 301.3,151.6 C302.2,151.0 303.6,149.3 304.4,148.5 C305.2,147.8 306.3,146.5 307.4,146.2 C308.5,145.9 311.3,145.8 312.5,146.0 C313.7,146.2 315.6,147.0 316.5,147.5 C317.5,148.1 319.1,149.0 319.5,150.1 C319.9,151.1 320.1,154.3 319.5,155.1 C319.0,155.9 316.6,155.8 315.5,156.1 C314.4,156.5 312.3,157.1 311.5,157.6 C310.7,158.2 310.1,159.6 309.4,160.2 C308.8,160.7 307.2,161.3 306.4,161.7 C305.6,162.0 303.9,162.3 303.4,162.7 C302.8,163.1 302.9,164.4 302.4,164.7 C301.8,165.0 300.1,165.1 299.3,164.7 C298.6,164.3 297.4,162.6 296.8,161.7 C296.2,160.8 295.3,159.1 295.1,158.1 C294.9,157.2 294.9,155.4 295.3,154.6Z" fill="#00009b"/>
<path d="M392.0,436.8 C392.4,435.9 394.0,433.1 395.5,431.9 C397.0,430.8 401.2,428.8 403.2,428.1 C405.3,427.3 408.4,426.2 411.0,426.1 C413.6,426.1 420.0,427.5 422.6,427.5 C425.2,427.5 428.3,427.1 430.3,426.1 C432.4,425.2 435.8,421.4 438.1,420.3 C440.4,419.3 445.2,418.6 447.8,418.4 C450.3,418.1 455.1,418.1 457.4,418.4 C459.8,418.7 462.9,420.1 465.2,420.9 C467.5,421.7 472.3,423.6 474.9,424.2 C477.5,424.8 481.7,425.3 484.6,425.2 C487.4,425.0 493.1,423.6 496.2,423.2 C499.3,422.8 504.7,422.4 507.8,422.3 C510.9,422.1 516.6,422.1 519.4,422.3 C522.2,422.4 526.5,422.3 529.1,423.2 C531.7,424.1 536.6,427.1 538.8,429.0 C541.0,431.0 544.1,435.2 545.5,437.8 C547.0,440.3 548.9,445.9 549.4,448.4 C549.9,450.9 549.9,454.0 549.4,456.1 C548.9,458.3 547.0,462.7 545.5,464.9 C544.1,467.1 541.0,470.8 538.8,472.6 C536.6,474.4 531.9,477.1 529.1,478.4 C526.2,479.7 520.6,481.6 517.5,482.3 C514.4,482.9 508.7,483.4 505.9,483.2 C503.0,483.1 498.8,482.1 496.2,481.3 C493.6,480.5 489.1,478.3 486.5,477.4 C483.9,476.5 479.4,475.1 476.8,474.5 C474.2,474.0 469.7,473.3 467.1,473.2 C464.5,473.1 460.0,473.9 457.4,474.0 C454.9,474.0 450.6,473.4 447.8,473.6 C444.9,473.7 439.2,475.1 436.1,475.1 C433.1,475.1 427.4,474.3 424.5,473.6 C421.7,472.8 417.0,471.0 414.9,469.7 C412.7,468.4 409.5,465.6 408.1,463.9 C406.6,462.2 404.8,459.2 404.2,457.1 C403.6,455.1 403.4,450.6 403.2,448.4 C403.1,446.2 403.6,441.7 402.9,440.7 C402.1,439.6 398.8,440.5 397.4,440.3 C396.1,440.0 393.3,439.2 392.6,438.7 C391.9,438.3 391.6,437.7 392.0,436.8Z" fill="#00009b"/>
<path d="M480.7,449.4 C480.7,446.6 481.3,444.1 482.6,441.6 C483.9,439.2 486.2,436.6 488.4,434.9 C490.7,433.1 493.3,431.9 496.2,431.0 C499.1,430.0 502.3,429.4 505.9,429.0 C509.4,428.7 513.9,428.6 517.5,429.0 C521.0,429.5 524.2,430.3 527.1,431.9 C530.0,433.6 533.0,436.1 534.9,438.7 C536.8,441.3 537.9,444.5 538.4,447.4 C538.9,450.3 538.7,453.2 537.8,456.1 C536.9,459.1 535.0,462.3 533.0,464.9 C530.9,467.4 528.1,469.9 525.2,471.6 C522.3,473.3 518.8,474.6 515.5,475.1 C512.3,475.6 509.1,475.3 505.9,474.5 C502.6,473.8 499.1,472.3 496.2,470.7 C493.3,469.1 490.7,467.0 488.4,464.9 C486.2,462.8 483.9,460.7 482.6,458.1 C481.3,455.5 480.7,452.1 480.7,449.4Z" fill="#0000d6"/>
<path d="M490.0,451.3 C490.3,448.9 490.8,444.2 492.3,441.6 C493.8,439.0 496.3,437.3 499.1,435.8 C501.8,434.4 505.4,433.3 508.8,432.9 C512.1,432.5 516.2,432.3 519.4,433.3 C522.6,434.3 525.9,436.4 528.1,438.7 C530.4,441.1 532.3,444.4 533.0,447.4 C533.6,450.5 532.9,454.2 532.0,457.1 C531.0,460.0 529.2,462.7 527.1,464.9 C525.0,467.0 522.3,469.0 519.4,470.1 C516.5,471.2 512.8,472.0 509.7,471.6 C506.7,471.3 503.6,469.4 501.0,467.8 C498.4,466.1 496.0,463.9 494.2,462.0 C492.5,460.0 491.1,457.9 490.4,456.1 C489.7,454.4 489.6,453.7 490.0,451.3Z" fill="#0000ff"/>
<path d="M497.1,451.3 C497.1,449.4 497.6,447.3 499.1,445.5 C500.5,443.7 503.1,441.6 505.9,440.7 C508.6,439.7 513.1,439.2 515.5,439.7 C517.9,440.2 518.9,441.8 520.4,443.6 C521.8,445.3 523.8,448.1 524.2,450.3 C524.7,452.6 524.1,455.2 523.3,457.1 C522.5,459.1 521.0,460.8 519.4,462.0 C517.8,463.1 515.8,464.0 513.6,463.9 C511.3,463.8 508.3,462.7 505.9,461.6 C503.4,460.4 500.5,458.8 499.1,457.1 C497.6,455.4 497.1,453.2 497.1,451.3Z" fill="#0030ff"/>
<path d="M439.1,444.5 C439.3,442.8 440.0,440.7 441.0,439.7 C442.0,438.7 443.7,438.4 444.9,438.7 C446.1,439.0 447.2,440.0 448.1,441.6 C449.1,443.2 450.4,446.3 450.7,448.4 C450.9,450.5 450.5,452.8 449.7,454.2 C448.9,455.7 447.1,457.0 445.8,457.1 C444.5,457.3 443.0,456.3 442.0,455.2 C440.9,454.1 440.1,452.1 439.6,450.3 C439.1,448.6 438.8,446.3 439.1,444.5Z" fill="#0000d6"/>
<path d="M457.1,450.3 C457.2,448.6 457.4,446.1 458.4,444.5 C459.4,442.9 461.3,441.7 463.2,440.7 C465.2,439.6 468.4,438.2 470.0,438.3 C471.6,438.5 472.6,440.0 472.9,441.6 C473.3,443.3 472.8,446.1 472.0,448.4 C471.2,450.7 469.7,453.6 468.1,455.2 C466.5,456.7 464.0,457.7 462.3,457.7 C460.6,457.7 458.7,456.4 457.8,455.2 C457.0,454.0 457.0,452.1 457.1,450.3Z" fill="#0000d6"/>
<path d="M836.4,378.4 C836.6,377.1 837.0,373.7 837.7,372.2 C838.4,370.7 839.9,367.8 841.4,367.2 C842.9,366.6 847.3,368.6 848.9,367.9 C850.6,367.3 852.4,363.3 853.9,362.2 C855.4,361.1 858.3,360.0 860.2,359.7 C862.0,359.4 865.8,360.2 867.7,359.7 C869.5,359.2 872.2,356.1 873.9,356.0 C875.6,355.8 878.5,357.3 880.1,358.5 C881.8,359.6 884.6,363.4 886.4,364.7 C888.2,366.0 891.5,367.1 893.9,367.9 C896.2,368.8 901.5,369.7 903.9,370.9 C906.2,372.2 909.5,375.2 911.4,377.2 C913.2,379.2 916.3,383.4 917.6,385.9 C918.9,388.4 920.5,393.4 920.9,395.9 C921.2,398.4 920.7,402.5 920.1,404.7 C919.5,406.8 917.7,410.3 916.4,412.1 C915.0,414.0 912.1,417.0 910.1,418.4 C908.1,419.8 903.9,422.2 901.4,422.9 C898.9,423.6 894.0,423.8 891.4,423.9 C888.7,424.0 883.9,424.0 881.4,423.4 C878.9,422.8 874.8,421.0 872.6,419.6 C870.5,418.3 866.7,415.2 865.2,413.4 C863.7,411.6 862.1,408.2 861.4,405.9 C860.7,403.6 860.7,397.9 860.2,395.9 C859.7,393.9 859.2,391.7 857.7,390.9 C856.2,390.2 851.1,390.9 848.9,390.4 C846.8,389.9 843.1,388.3 841.4,387.2 C839.8,386.1 837.1,383.3 836.4,382.2 C835.8,381.0 836.3,379.8 836.4,378.4Z" fill="#00009b"/>
<path d="M910.2,397.2 C910.2,398.9 910.0,400.7 909.6,402.3 C909.1,403.9 908.5,405.5 907.7,407.0 C906.9,408.5 905.9,409.8 904.7,411.0 C903.6,412.2 902.2,413.3 900.9,414.1 C899.5,415.0 897.9,415.7 896.3,416.1 C894.8,416.5 893.1,416.8 891.5,416.8 C889.9,416.8 888.2,416.5 886.7,416.1 C885.1,415.7 883.5,415.0 882.1,414.1 C880.8,413.3 879.4,412.2 878.3,411.0 C877.1,409.8 876.1,408.5 875.3,407.0 C874.5,405.5 873.9,403.9 873.4,402.3 C873.0,400.7 872.8,398.9 872.8,397.2 C872.8,395.6 873.0,393.8 873.4,392.2 C873.9,390.6 874.5,389.0 875.3,387.5 C876.1,386.0 877.1,384.7 878.3,383.5 C879.4,382.3 880.8,381.2 882.1,380.4 C883.5,379.5 885.1,378.8 886.7,378.4 C888.2,378.0 889.9,377.8 891.5,377.8 C893.1,377.8 894.8,378.0 896.3,378.4 C897.9,378.8 899.5,379.5 900.9,380.4 C902.2,381.2 903.6,382.3 904.7,383.5 C905.9,384.7 906.9,386.0 907.7,387.5 C908.5,389.0 909.1,390.6 909.6,392.2 C910.0,393.8 910.2,395.6 910.2,397.2Z" fill="#0000d6"/>
<path d="M849.8,465.5 C848.4,466.0 847.1,471.1 845.4,472.4 C843.7,473.8 839.2,474.5 836.7,475.7 C834.2,476.9 829.0,479.3 826.9,481.2 C824.7,483.0 821.5,487.4 820.3,489.9 C819.2,492.4 818.7,497.5 818.1,499.7 C817.6,501.9 817.3,504.6 816.0,506.2 C814.7,507.8 810.4,509.9 808.3,511.7 C806.3,513.4 802.2,517.0 800.7,519.3 C799.3,521.6 797.8,526.5 797.4,529.1 C797.1,531.7 797.3,536.4 797.9,538.9 C798.5,541.4 800.3,545.6 801.8,547.6 C803.3,549.7 807.1,552.9 809.4,554.2 C811.8,555.5 817.7,555.6 819.2,557.5 C820.8,559.3 820.9,565.3 821.0,568.4 C821.0,571.4 819.9,576.3 819.7,580.3 C819.4,584.4 808.8,596.4 819.2,598.9 C829.6,601.3 887.2,601.8 897.7,598.9 C908.2,596.0 898.1,581.4 897.7,577.1 C897.3,572.7 895.7,568.8 894.4,566.2 C893.1,563.6 889.9,559.3 887.9,557.5 C885.9,555.6 880.6,554.1 879.2,552.7 C877.7,551.2 877.4,548.5 877.0,546.5 C876.6,544.6 876.3,539.7 875.9,537.8 C875.5,535.9 872.9,533.4 873.7,532.4 C874.6,531.4 880.1,531.2 882.5,530.2 C884.8,529.2 889.4,526.3 891.2,524.8 C892.9,523.2 894.1,520.0 895.5,518.2 C897.0,516.5 900.3,513.6 902.1,511.7 C903.8,509.8 907.2,506.2 908.6,504.1 C910.0,501.9 911.9,497.8 912.5,495.3 C913.1,492.9 913.3,488.0 913.0,485.5 C912.7,483.0 911.5,478.9 910.4,476.8 C909.2,474.7 906.2,471.3 904.2,469.8 C902.3,468.4 897.9,466.4 895.5,465.9 C893.2,465.4 889.0,465.9 886.8,466.3 C884.6,466.8 881.1,468.2 879.2,469.2 C877.3,470.1 874.2,473.1 872.6,473.5 C871.0,474.0 868.8,472.7 867.2,472.4 C865.6,472.1 862.2,471.9 860.6,471.4 C859.1,470.8 856.7,468.9 855.2,468.1 C853.7,467.3 851.1,464.9 849.8,465.5Z" fill="#00009b"/>
<path d="M857.4,496.9 C856.6,497.0 856.8,500.8 855.2,501.9 C853.6,503.0 848.2,504.4 845.4,505.1 C842.6,505.9 837.4,506.7 834.5,507.3 C831.6,507.9 826.1,508.5 823.6,509.5 C821.1,510.5 817.6,513.2 816.0,515.0 C814.4,516.7 812.2,520.4 811.6,522.6 C811.0,524.7 811.2,529.0 811.6,531.3 C812.0,533.6 813.6,537.8 814.9,540.0 C816.2,542.2 819.8,545.8 821.4,547.6 C823.0,549.5 826.1,552.0 826.9,554.2 C827.6,556.4 827.0,561.2 826.9,564.0 C826.7,566.8 826.1,570.2 825.8,574.9 C825.5,579.5 818.6,595.7 824.7,598.9 C830.8,602.1 865.2,600.9 871.5,598.9 C877.9,596.8 872.1,586.5 872.6,583.6 C873.2,580.7 875.3,579.1 875.9,577.1 C876.5,575.0 877.1,570.7 877.0,568.4 C876.9,566.0 876.0,561.1 874.8,559.6 C873.7,558.2 870.5,558.3 868.3,557.5 C866.1,556.6 860.6,554.5 858.5,553.1 C856.3,551.6 852.5,548.0 851.9,546.5 C851.3,545.1 852.8,543.5 854.1,542.2 C855.4,540.9 860.0,538.3 861.7,536.7 C863.5,535.1 866.0,532.1 867.2,530.2 C868.4,528.3 870.1,524.7 870.5,522.6 C870.8,520.4 870.4,516.0 869.8,513.9 C869.2,511.7 867.3,508.0 866.1,506.2 C864.9,504.5 862.3,502.0 861.1,500.8 C859.9,499.5 858.2,496.7 857.4,496.9Z" fill="#0000d6"/>
<path d="M842.1,511.2 C840.4,511.5 836.1,513.7 834.5,515.0 C832.9,516.2 831.2,518.5 830.1,520.4 C829.0,522.3 826.9,526.6 826.2,529.1 C825.5,531.6 824.6,536.6 824.7,538.9 C824.8,541.2 825.7,544.7 826.9,546.5 C828.0,548.4 832.4,551.3 833.4,553.1 C834.4,554.8 834.6,557.6 834.5,559.6 C834.4,561.7 832.5,566.0 832.3,568.4 C832.2,570.7 832.8,573.0 833.4,577.1 C834.0,581.1 832.6,596.0 836.7,598.9 C840.7,601.8 860.0,600.9 863.9,598.9 C867.8,596.8 865.4,586.5 866.1,583.6 C866.8,580.7 868.6,579.1 869.4,577.1 C870.1,575.0 871.5,570.4 871.5,568.4 C871.5,566.3 870.8,563.4 869.4,561.8 C867.9,560.2 863.0,557.8 860.6,556.4 C858.3,554.9 853.5,552.8 851.9,550.9 C850.3,549.0 848.8,544.2 848.7,542.2 C848.5,540.2 850.3,537.7 850.8,535.6 C851.4,533.6 852.9,529.3 853.0,526.9 C853.2,524.6 852.7,520.1 851.9,518.2 C851.2,516.3 848.9,513.7 847.6,512.8 C846.3,511.8 843.9,510.9 842.1,511.2Z" fill="#0000ff"/>
<path d="M833.0,5.0 C832.6,6.5 832.5,11.2 830.0,13.0 C827.5,14.8 816.7,18.4 812.0,20.0 C807.3,21.6 794.5,25.6 790.0,27.0 C785.5,28.4 775.5,30.6 773.0,32.0 C770.5,33.4 769.5,36.9 769.0,39.0 C768.5,41.1 768.1,47.7 768.5,50.0 C768.9,52.3 770.7,57.0 772.0,59.0 C773.3,61.0 778.0,65.6 780.0,67.0 C782.0,68.4 786.7,70.4 789.0,71.0 C791.3,71.6 796.8,72.7 799.6,72.4 C802.4,72.1 810.5,69.1 812.9,68.4 C815.3,67.7 818.0,66.6 820.0,66.0 C822.0,65.4 827.8,63.7 830.2,62.9 C832.6,62.1 837.9,59.8 840.3,58.9 C842.7,58.0 848.1,55.5 850.5,54.8 C852.9,54.1 858.3,53.1 860.7,52.8 C863.1,52.4 868.4,52.3 870.8,51.8 C873.2,51.3 878.6,49.2 881.0,48.7 C883.4,48.2 888.8,47.7 891.2,47.7 C893.6,47.7 899.2,48.4 901.3,48.7 C903.4,49.1 907.3,50.7 909.4,50.7 C911.5,50.7 917.5,49.5 919.6,48.7 C921.7,47.9 925.8,45.1 927.7,43.6 C929.6,42.1 933.8,36.7 935.9,35.5 C938.0,34.3 943.4,33.5 946.0,33.1 C948.6,32.7 955.4,32.4 958.2,32.4 C961.0,32.4 967.8,33.6 970.4,33.5 C973.0,33.4 978.5,32.4 980.6,31.4 C982.7,30.4 986.8,26.6 988.7,25.3 C990.6,24.0 995.2,21.0 996.9,20.2 C998.6,19.4 1001.3,18.6 1003.0,18.2 C1004.7,17.8 1009.6,17.0 1011.1,16.8 C1012.6,16.6 1015.4,15.9 1016.2,16.2 C1017.0,16.5 1017.4,18.7 1018.2,19.2 C1019.0,19.7 1021.9,20.7 1023.3,20.9 C1024.7,21.1 1029.2,23.4 1030.0,21.0 C1030.8,18.6 1053.0,2.4 1030.0,0.0 C1007.0,-2.4 856.0,-0.6 833.0,0.0 C810.0,0.6 833.4,3.5 833.0,5.0Z" fill="#00009b"/>
<path d="M840.0,0.0 C824.1,4.7 837.2,35.5 840.0,40.0 C842.8,44.5 860.1,38.2 863.7,38.5 C867.3,38.8 869.0,42.0 870.8,42.6 C872.6,43.2 876.9,44.0 879.0,43.6 C881.1,43.2 886.5,40.5 889.1,39.6 C891.7,38.7 898.7,36.3 901.3,35.5 C903.9,34.7 909.1,33.2 911.5,32.4 C913.9,31.6 919.2,29.3 921.6,28.4 C924.0,27.5 929.7,25.4 931.8,24.3 C933.9,23.2 938.2,20.0 939.9,19.2 C941.6,18.4 944.6,17.2 946.0,17.2 C947.4,17.2 950.2,19.3 952.1,19.2 C954.0,19.1 960.2,17.0 962.3,16.2 C964.4,15.4 968.8,13.3 970.4,12.1 C972.0,10.9 975.3,7.4 976.0,6.0 C976.7,4.6 991.9,0.7 976.0,0.0 C960.1,-0.7 855.9,-4.7 840.0,0.0Z" fill="#0000d6"/>
<path d="M845.0,0.0 C833.5,4.2 842.8,31.9 845.0,36.0 C847.2,40.1 860.4,35.2 863.7,35.5 C867.0,35.8 871.1,38.3 872.9,38.5 C874.7,38.7 877.1,38.1 879.0,37.5 C880.9,36.9 886.5,34.4 889.1,33.5 C891.7,32.6 898.7,30.4 901.3,29.4 C903.9,28.4 909.1,26.4 911.5,25.3 C913.9,24.2 919.5,21.4 921.6,20.2 C923.7,19.0 928.1,16.1 929.8,15.2 C931.5,14.3 934.2,13.2 935.9,12.1 C937.6,11.0 943.1,7.4 944.0,6.0 C944.9,4.6 955.5,0.7 944.0,0.0 C932.5,-0.7 856.5,-4.2 845.0,0.0Z" fill="#0000ff"/>
<path d="M913.5,11.0 C913.5,13.0 913.2,15.1 912.6,17.1 C912.1,19.0 911.2,21.0 910.1,22.8 C909.0,24.5 907.6,26.2 906.0,27.6 C904.5,29.1 902.7,30.3 900.8,31.4 C898.8,32.4 896.7,33.2 894.6,33.7 C892.5,34.2 890.2,34.5 888.0,34.5 C885.8,34.5 883.5,34.2 881.4,33.7 C879.3,33.2 877.2,32.4 875.2,31.4 C873.3,30.3 871.5,29.1 870.0,27.6 C868.4,26.2 867.0,24.5 865.9,22.8 C864.8,21.0 863.9,19.0 863.4,17.1 C862.8,15.1 862.5,13.0 862.5,11.0 C862.5,9.0 862.8,6.9 863.4,4.9 C863.9,3.0 864.8,1.0 865.9,-0.7 C867.0,-2.5 868.4,-4.2 870.0,-5.6 C871.5,-7.1 873.3,-8.3 875.2,-9.4 C877.2,-10.4 879.3,-11.2 881.4,-11.7 C883.5,-12.2 885.8,-12.5 888.0,-12.5 C890.2,-12.5 892.5,-12.2 894.6,-11.7 C896.7,-11.2 898.8,-10.4 900.8,-9.4 C902.7,-8.3 904.5,-7.1 906.0,-5.6 C907.6,-4.2 909.0,-2.5 910.1,-0.8 C911.2,1.0 912.1,3.0 912.6,4.9 C913.2,6.9 913.5,9.0 913.5,11.0Z" fill="#0030ff"/>
<path d="M904.7,11.0 C904.7,12.7 904.5,14.4 904.0,16.0 C903.6,17.7 902.9,19.3 902.1,20.8 C901.2,22.2 900.1,23.6 898.9,24.8 C897.7,26.0 896.3,27.0 894.9,27.9 C893.4,28.7 891.7,29.4 890.1,29.8 C888.5,30.3 886.7,30.5 885.0,30.5 C883.3,30.5 881.5,30.3 879.9,29.8 C878.3,29.4 876.6,28.7 875.1,27.9 C873.7,27.0 872.3,26.0 871.1,24.8 C869.9,23.6 868.8,22.2 867.9,20.8 C867.1,19.3 866.4,17.7 866.0,16.0 C865.5,14.4 865.3,12.7 865.3,11.0 C865.3,9.3 865.5,7.6 866.0,6.0 C866.4,4.3 867.1,2.7 867.9,1.3 C868.8,-0.2 869.9,-1.6 871.1,-2.8 C872.3,-4.0 873.7,-5.0 875.1,-5.9 C876.6,-6.7 878.3,-7.4 879.9,-7.8 C881.5,-8.3 883.3,-8.5 885.0,-8.5 C886.7,-8.5 888.5,-8.3 890.1,-7.8 C891.7,-7.4 893.4,-6.7 894.9,-5.9 C896.3,-5.0 897.7,-4.0 898.9,-2.8 C900.1,-1.6 901.2,-0.2 902.1,1.2 C902.9,2.7 903.6,4.3 904.0,6.0 C904.5,7.6 904.7,9.3 904.7,11.0Z" fill="#0064ff"/>
<path d="M892.3,11.0 C892.3,12.2 892.2,13.5 891.9,14.7 C891.7,15.9 891.3,17.1 890.8,18.1 C890.3,19.2 889.7,20.2 889.0,21.1 C888.3,22.0 887.5,22.8 886.6,23.4 C885.8,24.0 884.9,24.5 883.9,24.8 C883.0,25.1 882.0,25.3 881.0,25.3 C880.0,25.3 879.0,25.1 878.1,24.8 C877.1,24.5 876.2,24.0 875.4,23.4 C874.5,22.8 873.7,22.0 873.0,21.1 C872.3,20.2 871.7,19.2 871.2,18.1 C870.7,17.1 870.3,15.9 870.1,14.7 C869.8,13.5 869.7,12.2 869.7,11.0 C869.7,9.8 869.8,8.5 870.1,7.3 C870.3,6.1 870.7,4.9 871.2,3.9 C871.7,2.8 872.3,1.8 873.0,0.9 C873.7,0.0 874.5,-0.8 875.4,-1.4 C876.2,-2.0 877.1,-2.5 878.1,-2.8 C879.0,-3.1 880.0,-3.3 881.0,-3.3 C882.0,-3.3 883.0,-3.1 883.9,-2.8 C884.9,-2.5 885.8,-2.0 886.6,-1.4 C887.5,-0.8 888.3,0.0 889.0,0.9 C889.7,1.8 890.3,2.8 890.8,3.8 C891.3,4.9 891.7,6.1 891.9,7.3 C892.2,8.5 892.3,9.8 892.3,11.0Z" fill="#0098ff"/>
</g>
<g clip-path="url(#c)" fill="none" stroke="#000" stroke-linejoin="round" stroke-linecap="round">
<path d="M146.8,8.7 L136.1,128.6" stroke-width="2.05"/>
<path d="M25.0,101.9 L32.5,107.4 L37.5,111.9 L41.2,116.1 L45.0,113.6 L50.0,109.9 L56.2,107.9 L61.2,107.4 L66.2,109.9 L71.2,107.9 L79.9,105.4 L83.7,108.6 L91.2,110.6 L96.2,108.6 L99.9,106.1 L103.7,107.9 L109.9,113.6 L116.1,119.9 L124.9,124.9 L136.1,129.4 L141.1,133.6 L147.3,132.9 L157.3,135.6 L156.6,158.1" stroke-width="2.05"/>
<path d="M188.6,72.4 L193.6,70.4 L197.3,72.4 L202.3,70.7 L206.0,72.9 L202.3,74.9 L197.3,76.2 L193.6,74.4 L189.8,75.4Z" stroke-width="1.35"/>
<path d="M25.0,94.4 L30.0,93.7 L33.7,91.9 L32.0,97.4 L28.7,101.2 L25.5,99.9Z" stroke-width="1.35"/>
<path d="M156.6,158.0 L154.8,169.2 L149.8,231.7" stroke-width="2.05"/>
<path d="M154.8,169.2 L258.0,176.0" stroke-width="2.05"/>
<path d="M150.5,225.0 L149.8,232.1 L153.7,236.8 L157.7,240.8 L160.8,245.5 L161.6,251.9 L162.4,258.2 L164.0,264.5 L165.6,270.8 L167.9,277.1 L170.3,281.9 L172.7,285.0 L172.3,289.8 L173.9,293.7 L171.4,296.9 L171.9,300.8 L169.5,305.6 L167.9,311.1 L165.6,315.8 L163.2,319.8 L160.0,322.2 L160.8,325.0" stroke-width="2.05"/>
<path d="M153.7,236.8 L152.1,240.8 L156.1,242.4 L158.4,247.1 L159.2,252.7 L157.7,256.6 L161.6,261.3 L160.0,265.3 L164.8,266.9 L163.2,270.8 L158.4,270.8 L164.0,273.2 L167.1,276.3 L161.6,277.1 L160.0,280.3 L165.6,281.1 L169.5,284.2" stroke-width="1.3"/>
<path d="M164.0,259.8 L167.9,256.6 L167.1,262.1 L170.3,262.1 L167.1,265.3 L166.3,268.4 L171.1,267.6 L168.7,272.4 L167.9,277.1 L171.9,276.3 L170.3,281.1" stroke-width="1.3"/>
<path d="M155.3,238.4 L159.2,243.2 L160.0,248.7 L160.8,255.0 L163.2,262.1 L165.6,267.6" stroke-width="1.3"/>
<path d="M380.4,10.5 L371.6,12.0" stroke-width="2.05"/>
<path d="M354.1,57.9 L459.8,59.4 L516.0,60.4" stroke-width="2.05"/>
<path d="M459.8,59.4 L465.8,65.4 L455.3,158.1" stroke-width="2.05"/>
<path d="M485.3,74.4 L492.8,70.4 L504.0,72.9 L516.0,79.4" stroke-width="1.35"/>
<path d="M486.5,74.9 L494.0,72.4 L504.0,74.9 L516.0,81.9" stroke-width="1.35"/>
<path d="M360.3,40.0 L362.9,41.6 L365.4,43.6 L365.4,47.6 L363.9,49.6 L360.3,49.6 L358.8,52.2 L357.3,54.7 L353.8,55.0 L352.8,56.7 L354.8,58.8 L355.8,61.3 L353.8,65.3 L349.7,66.3 L346.7,66.8 L346.2,64.8 L344.7,64.8 L345.5,69.4 L345.7,71.9 L344.4,74.9 L343.6,78.0 L341.1,79.7 L338.6,80.5 L340.1,82.5 L341.6,84.5 L338.6,86.6 L337.6,88.6 L338.6,91.1 L337.1,93.6 L334.5,95.2 L332.5,97.7 L331.5,100.0" stroke-width="1.7"/>
<path d="M345.5,69.4 L341.6,69.2 L340.1,70.4 L339.6,74.4 L338.1,78.0 L337.6,80.0 L338.6,80.5" stroke-width="1.7"/>
<path d="M341.1,70.9 L343.1,71.2 L342.6,74.9 L340.6,75.4Z" stroke-width="1.7"/>
<path d="M340.4,76.4 L343.1,76.2 L342.6,78.5 L340.4,79.3Z" stroke-width="1.7"/>
<path d="M327.5,94.7 L331.0,95.2 L332.5,97.7" stroke-width="1.7"/>
<path d="M335.6,95.0 L332.5,99.0 L329.5,97.5 L330.0,100.6 L325.4,100.1 L323.9,103.6 L319.9,103.1 L319.4,105.6 L322.4,105.1 L325.4,107.1 L324.9,109.2 L321.4,108.7 L318.4,107.6 L318.9,111.2 L321.9,112.7 L321.4,115.7 L317.4,116.2 L318.4,119.3 L315.3,119.8 L313.8,117.8 L310.8,116.7 L313.3,120.3 L313.8,122.8 L311.3,125.3 L312.3,127.9 L315.3,130.4 L311.8,129.9 L308.8,129.9 L306.7,131.9 L308.8,134.9 L311.8,135.9 L312.3,137.5 L309.3,137.5 L306.7,135.9 L303.7,134.4 L302.7,136.5 L305.7,139.5 L306.2,142.5 L303.7,142.0 L301.2,142.5 L302.7,145.6 L303.7,147.6 L301.7,150.1 L302.7,153.7 L305.7,154.7 L308.8,152.1 L306.7,150.1 L304.2,150.4 L305.2,153.1 L306.7,155.7 L306.2,159.0" stroke-width="1.7"/>
<path d="M302.4,145.0 L304.4,147.5 L302.4,149.6 L302.9,153.1 L305.9,154.6 L308.9,153.1 L309.9,150.6 L307.4,149.0 L304.9,149.6" stroke-width="1.7"/>
<path d="M305.9,154.6 L306.4,158.1 L307.9,161.7 L310.9,161.2 L309.9,163.7 L308.4,165.2 L308.9,168.8 L307.4,170.8 L304.4,169.8 L302.9,171.3 L304.9,174.3 L305.4,176.3 L303.4,178.4 L300.8,180.9 L300.8,183.9 L303.4,184.9 L305.9,183.9 L306.4,180.4 L307.9,181.4 L307.9,185.4 L306.9,188.5 L303.9,190.0 L302.9,192.5 L305.4,194.5 L308.4,195.6 L308.9,197.6 L306.4,199.1 L303.4,200.1 L303.4,203.1 L305.9,204.2 L308.9,202.6 L310.9,202.1 L310.4,205.2 L308.4,207.2 L309.4,209.0" stroke-width="1.7"/>
<path d="M308.6,205.0 L306.0,208.0 L305.5,211.6 L308.1,213.6 L311.6,213.1 L312.6,215.1 L311.6,218.1 L314.6,219.7 L316.6,221.7 L315.6,223.7 L313.1,223.2 L311.1,224.7 L308.6,225.7 L304.5,226.2 L302.0,228.3 L302.0,231.8 L304.5,233.3 L308.1,232.3 L308.6,230.3 L310.1,231.3 L310.6,233.8 L308.1,235.8 L305.5,237.4 L302.5,237.4 L301.5,236.3 L304.5,238.4 L306.5,239.9 L304.5,241.4 L301.5,242.4 L298.4,245.4 L295.4,249.5 L292.9,250.0 L290.9,251.0 L290.4,254.5 L293.4,255.6 L294.9,254.5 L293.4,252.5 L291.4,254.5 L288.8,256.6 L287.8,259.6 L287.3,262.6 L284.3,262.8 L281.8,263.6 L284.3,265.2 L286.8,265.7 L285.3,267.7 L282.8,269.0" stroke-width="1.7"/>
<path d="M288.9,258.0 L287.4,261.5 L284.4,263.1 L281.9,263.6 L284.4,265.1 L286.9,266.6 L284.4,268.1 L281.9,269.1 L281.3,271.6 L282.9,274.2 L281.9,277.2 L279.3,276.2 L277.8,278.2 L279.3,281.3 L281.3,282.8 L280.3,284.8 L276.8,285.3 L273.8,285.8 L274.3,288.3 L275.8,290.4 L274.3,292.9 L275.3,295.4 L277.3,297.4 L275.8,299.5 L272.2,302.0" stroke-width="1.7"/>
<path d="M258.0,176.0 L303.0,178.0" stroke-width="2.05"/>
<path d="M272.2,302.0 L350.0,305.1 L375.4,306.6 L372.9,316.1" stroke-width="2.05"/>
<path d="M454.1,158.0 L442.3,250.4 L444.1,316.1" stroke-width="2.05"/>
<path d="M516.0,60.4 L590.9,60.7 L655.9,59.4 L718.3,57.4" stroke-width="2.05"/>
<path d="M590.4,60.7 L609.7,158.1" stroke-width="2.05"/>
<path d="M655.9,59.4 L657.1,45.0 L662.1,42.0 L669.6,40.0" stroke-width="2.05"/>
<path d="M713.3,10.5 L709.6,12.0" stroke-width="2.05"/>
<path d="M718.3,57.4 L733.3,51.2 L750.8,43.7 L768.2,41.2 L774.0,41.2" stroke-width="2.05"/>
<path d="M674.6,91.9 L677.1,96.2 L679.6,92.4 L683.8,96.2 L678.3,102.4 L675.8,107.4 L669.6,109.9 L668.9,106.1 L673.3,103.7 L675.8,98.7Z" stroke-width="1.35"/>
<path d="M516.0,79.4 L521.0,81.2 L526.0,86.9" stroke-width="1.35"/>
<path d="M516.0,81.9 L526.0,87.4" stroke-width="1.35"/>
<path d="M717.6,56.6 L712.4,63.0 L707.2,70.0 L705.4,76.1 L710.6,79.6 L716.7,83.0 L721.1,86.5 L727.2,88.3 L732.4,87.4 L734.1,83.0 L730.6,81.3 L728.0,82.2 L733.3,84.8 L732.4,91.7 L728.9,94.3 L727.2,95.2 L733.3,95.2 L735.9,100.4 L738.5,107.4 L742.8,111.7 L747.2,117.8 L747.2,123.0 L746.8,126.5 L750.6,121.3 L755.0,126.5 L759.4,128.3 L755.0,119.6 L757.6,123.0 L761.1,130.0 L766.3,130.9 L765.4,136.1 L760.2,135.2 L755.0,138.7 L748.9,139.6 L757.6,137.0 L764.6,135.2 L768.0,139.6 L775.0,143.9 L781.1,149.1 L783.7,154.3 L788.0,160.1" stroke-width="2.05"/>
<path d="M774.0,41.2 L820.2,42.0 L822.7,46.2 L826.5,43.7 L833.9,52.5 L835.2,60.7" stroke-width="2.05"/>
<path d="M835.2,60.7 L891.4,57.9 L953.3,111.1" stroke-width="2.05"/>
<path d="M1023.2,52.3 L1020.1,49.2 L1021.1,54.4 L1017.0,53.4 L1018.1,57.5 L1012.9,60.5 L1008.8,60.5 L1010.9,64.6 L1005.8,66.7 L1000.6,70.8 L994.5,77.0 L990.4,83.1 L987.3,89.3 L985.2,95.4 L982.1,89.3 L984.2,99.5 L981.1,106.7 L973.9,105.7 L965.7,106.7 L954.4,110.8 L945.2,116.0 L937.0,124.2 L930.8,132.4 L926.7,140.6 L924.6,148.8 L920.5,145.8 L919.5,149.9 L924.6,155.0 L920.5,160.1 L914.4,164.2 L908.2,167.3 L905.1,170.0" stroke-width="1.35"/>
<path d="M799.0,108.6 L807.7,107.4 L816.5,106.9 L817.7,111.9 L811.5,112.9 L806.5,110.4Z" stroke-width="1.35"/>
<path d="M853.9,136.1 L861.4,141.1 L868.9,139.9 L872.6,146.1 L866.4,144.9 L860.2,142.9Z" stroke-width="1.35"/>
<path d="M875.1,152.3 L878.9,147.3 L883.4,149.8 L882.6,156.1 L877.6,157.3Z" stroke-width="1.35"/>
<path d="M774.0,142.4 L781.5,147.3 L784.0,154.8 L786.5,158.1" stroke-width="2.05"/>
<path d="M608.4,158.0 L615.9,195.5 L624.6,214.2 L627.1,224.2 L630.9,229.2 L624.6,232.9 L622.1,242.9 L618.4,255.4 L620.9,265.4 L624.6,275.4 L622.1,285.4 L622.1,295.4 L625.9,304.1 L629.6,312.9 L632.1,316.1" stroke-width="2.05"/>
<path d="M632.1,316.1 L635.9,314.8 L640.9,313.3" stroke-width="1.35"/>
<path d="M782.1,150.0 L782.1,154.3 L785.7,157.8 L788.5,162.1 L792.1,165.6 L797.1,169.2 L802.8,172.8 L806.3,176.3 L807.7,181.3 L810.6,187.0 L812.0,192.7 L813.4,198.3 L817.7,202.6 L822.0,206.2 L824.8,209.7 L825.5,214.0 L827.6,218.2 L827.6,223.9 L829.0,228.2 L832.6,231.1 L836.9,231.8 L841.1,233.2" stroke-width="2.05"/>
<path d="M905.1,170.0 L903.7,174.2 L900.0,177.0 L896.6,180.6 L892.3,184.1 L889.5,185.6 L888.1,182.0 L890.2,180.6 L888.8,184.1 L890.9,187.7 L888.1,191.2 L884.5,193.4 L879.5,196.2 L874.5,198.3 L873.1,196.2 L874.5,199.1 L871.7,201.9 L868.9,204.7 L866.0,201.9 L863.9,199.8 L859.6,201.9 L856.1,204.0 L857.5,207.6 L861.8,208.3 L862.5,210.4 L858.2,212.6 L857.5,216.1 L853.9,219.0 L851.8,215.4 L853.2,213.3 L849.7,215.4 L848.2,219.0 L851.1,221.8 L849.7,225.4 L846.1,224.7 L844.0,227.5 L846.1,228.9 L842.6,231.8 L841.1,233.9 L844.0,235.3 L843.3,238.2 L838.3,240.0" stroke-width="1.35"/>
<path d="M843.3,204.7 L842.6,206.9 L844.0,209.0 L844.7,212.6 L846.8,215.4 L848.2,219.0" stroke-width="1.35"/>
<path d="M842.6,204.7 L844.3,205.7" stroke-width="2.2"/>
<path d="M843.9,230.0 L841.1,234.3 L836.8,232.8 L838.2,237.1 L834.0,238.5 L836.1,242.1 L832.6,240.7 L829.7,242.8 L826.9,241.4 L827.6,245.6 L831.1,248.5 L833.3,251.3 L829.7,253.5 L826.9,251.3 L824.7,254.2 L828.3,257.7 L826.2,260.6 L822.6,258.4 L824.7,263.4 L828.3,267.7 L825.5,271.2 L822.6,269.1 L819.8,272.7 L824.0,274.1 L821.2,276.9 L816.9,276.2 L815.5,279.1 L819.0,281.2 L823.3,281.9 L824.0,285.4 L820.5,288.3 L816.9,286.2 L819.0,289.7 L815.5,291.1 L812.7,288.3 L809.1,286.9 L811.2,291.1 L814.1,294.7 L810.5,295.4 L812.7,299.0 L816.9,298.2 L815.5,301.8 L812.0,301.1 L814.1,304.6 L818.3,303.2 L817.6,307.5 L816.2,312.5 L814.8,315.3 L816.9,320.0" stroke-width="1.35"/>
<path d="M826.9,251.3 L824.0,258.4 L821.2,265.6 L819.0,272.7" stroke-width="1.35"/>
<path d="M829.7,253.5 L827.6,260.6 L824.0,267.0" stroke-width="1.35"/>
<path d="M832.6,240.7 L830.4,247.1 L827.6,254.2" stroke-width="1.35"/>
<path d="M25.0,434.6 L37.5,429.6 L50.0,424.6 L59.9,420.4 L72.4,412.1 L84.9,403.4 L99.9,393.4 L112.4,385.9 L124.9,380.9 L137.4,376.4 L149.8,375.4 L162.3,372.9 L174.8,372.2 L187.3,373.4 L199.8,379.7 L212.3,385.9 L224.8,389.7 L234.8,390.9 L244.8,388.4 L258.0,395.9" stroke-width="1.35"/>
<path d="M163.6,316.0 L159.8,326.0 L158.6,336.0 L159.8,346.0 L156.1,353.5 L151.1,359.7 L146.1,367.2 L149.3,375.4" stroke-width="2.05"/>
<path d="M72.4,410.9 L76.2,402.2 L84.9,395.9 L91.2,390.9 L87.4,383.4 L83.7,378.4 L88.7,375.9 L88.7,370.9 L96.2,369.7 L102.4,365.9 L104.9,370.9 L99.9,379.7 L109.9,382.2 L114.9,383.4" stroke-width="1.35"/>
<path d="M74.9,405.9 L87.4,398.4 L99.9,394.7" stroke-width="1.35"/>
<path d="M146.1,367.2 L152.3,358.5 L156.1,359.7 L152.3,367.2 L147.3,369.7" stroke-width="1.35"/>
<path d="M172.3,365.9 L178.6,353.5 L182.3,354.7 L183.6,365.9 L177.3,369.7Z" stroke-width="1.35"/>
<path d="M204.8,363.4 L212.3,363.4 L209.8,365.9 L214.8,369.7 L207.3,368.9Z" stroke-width="1.35"/>
<path d="M216.0,375.9 L219.8,372.9 L223.5,375.9 L227.3,374.7 L228.5,378.4 L223.5,382.2 L218.5,379.7Z" stroke-width="1.35"/>
<path d="M26.2,430.9 L32.5,427.1 L41.2,425.9 L32.5,430.4Z" stroke-width="1.35"/>
<path d="M239.8,378.4 L246.0,375.9 L252.2,374.7 L258.0,373.4" stroke-width="1.35"/>
<path d="M239.8,378.4 L243.5,384.7 L247.2,388.4" stroke-width="1.35"/>
<path d="M255.0,374.0 L258.9,374.8 L256.6,378.7 L259.7,381.1 L263.7,379.5 L270.8,379.5 L269.2,386.6 L273.9,387.4 L273.2,393.7 L279.5,393.7 L281.1,388.2 L282.6,393.7 L287.4,395.3 L289.0,390.5 L291.3,389.8 L290.5,394.5 L289.0,399.2 L291.3,403.2 L295.3,406.3 L296.9,409.5 L293.7,413.4 L289.0,411.9 L284.2,407.1 L288.2,404.8 L292.1,406.3 L293.7,410.3 L296.9,415.0 L300.8,414.2 L304.8,417.4 L308.7,421.4 L313.4,420.6 L319.0,420.6 L320.6,415.8 L324.5,413.4 L325.3,409.5 L329.2,410.3 L333.2,407.9 L337.1,411.1 L341.1,413.4 L342.7,419.0 L344.2,423.7 L349.8,422.1 L353.7,418.2 L352.1,413.4 L353.7,408.7 L354.5,403.2 L352.9,400.0 L348.2,399.2 L345.8,396.1 L349.0,394.5 L352.9,396.9 L357.7,399.2 L362.4,400.0 L367.1,401.6 L370.3,400.8 L367.9,404.8 L367.1,409.5 L371.9,411.9 L376.6,413.4 L381.4,415.8 L385.3,419.0 L388.5,423.7 L391.6,426.1 L395.6,424.5 L397.2,427.7 L394.0,430.8 L390.8,434.0 L388.5,436.4 L392.4,432.4 L396.4,426.9 L399.5,429.2 L402.7,430.8 L404.3,426.1 L407.4,425.3 L409.0,420.6 L406.6,417.4 L403.5,414.2 L400.3,411.1 L395.6,408.7 L390.8,407.1 L386.1,405.6 L381.4,403.2 L378.2,400.0 L375.0,396.1 L375.8,390.5 L377.4,385.8 L381.4,383.4 L385.3,384.2 L387.7,387.4 L389.3,383.4 L393.2,381.9 L396.4,378.7 L398.7,377.1 L394.8,375.5 L392.4,371.6 L389.3,366.9 L387.7,366.1 L383.7,368.4 L381.4,373.2 L378.2,376.3 L373.5,374.8 L368.7,371.6 L366.4,367.6 L368.7,363.7 L372.7,359.7 L376.6,358.2 L381.4,357.4 L386.1,356.6 L390.1,353.4 L392.4,349.5 L397.2,347.1 L403.5,347.1 L409.8,345.5 L415.0,345.5 L420.3,343.5 L430.3,347.2" stroke-width="1.35"/>
<path d="M372.7,359.7 L371.9,356.6 L365.6,353.4 L360.0,350.3 L356.1,346.3 L351.4,343.9 L346.6,344.7 L341.9,347.9 L337.1,351.9 L336.4,347.9 L332.4,346.3 L328.4,348.7 L326.9,353.4 L329.2,355.8 L334.0,355.0 L337.1,351.9 L335.6,355.8 L336.4,360.5 L341.1,363.7 L348.2,365.3 L356.1,364.5 L362.4,361.3 L367.1,358.2 L371.9,359.7" stroke-width="1.35"/>
<path d="M339.5,385.8 L341.1,381.1 L344.2,377.1 L348.2,377.1 L349.8,381.1 L348.2,385.0 L343.4,387.4 L340.3,387.4Z" stroke-width="1.35"/>
<path d="M280.3,366.1 L282.6,367.6 L285.8,376.3 L290.5,379.5 L293.7,381.1 L292.1,382.3 L287.4,380.8 L283.4,377.9 L281.1,372.4 L279.5,370.0Z" stroke-width="1.35"/>
<path d="M255.0,386.6 L259.7,388.2 L264.5,390.5 L262.1,395.3 L257.4,396.1 L255.0,394.5" stroke-width="1.35"/>
<path d="M394.0,346.3 L397.2,345.5 L398.7,347.9 L395.6,348.7Z" stroke-width="1.35"/>
<path d="M365.6,402.4 L368.7,407.9 L371.1,411.1" stroke-width="1.35"/>
<path d="M383.7,382.6 L389.3,379.5 L394.0,377.9 L397.9,377.9" stroke-width="1.35"/>
<path d="M405.9,419.0 L409.0,423.7 L406.6,427.7" stroke-width="1.35"/>
<path d="M369.1,316.0 L369.1,326.0 L372.9,333.5 L376.6,341.0 L379.1,351.0 L380.4,356.0" stroke-width="2.05"/>
<path d="M444.7,298.8 L444.7,347.6" stroke-width="2.05"/>
<path d="M430.0,346.8 L433.9,344.5 L436.2,348.4 L440.8,349.9 L444.7,347.6 L447.8,344.5 L452.5,346.1 L456.3,348.4 L459.4,350.7 L461.0,342.2 L461.8,334.4 L460.2,332.9 L463.3,330.6 L464.9,326.7 L466.4,322.0 L467.2,327.5 L470.6,329.0 L471.5,336.0 L470.6,341.4 L473.4,346.1 L475.7,345.3 L476.5,349.1 L479.6,351.5 L481.1,353.0 L478.0,354.6 L471.8,354.9 L464.9,356.1 L476.5,354.9 L487.3,353.0 L498.1,350.7 L507.4,347.6 L516.7,346.1 L526.0,345.0 L535.3,344.5 L541.5,345.0 L542.3,342.2 L546.2,341.4 L548.5,338.8 L552.4,340.6 L558.6,340.3 L563.2,339.9 L566.3,342.2 L567.9,346.1 L563.2,345.0 L558.6,345.6 L553.9,346.5 L547.7,345.6 L550.8,346.5 L561.7,349.1 L572.5,353.8 L581.8,359.2 L590.0,363.9" stroke-width="1.35"/>
<path d="M627.1,307.1 L488.1,308.2 L486.5,315.8 L489.6,320.5 L493.5,325.1 L498.1,328.2 L498.9,332.9 L497.4,338.3 L498.1,342.2 L501.2,342.9 L498.1,346.1 L495.1,349.9 L492.0,351.5 L488.1,349.9" stroke-width="2.05"/>
<path d="M488.9,350.2 L492.0,351.2 L495.1,349.6 L497.8,346.5" stroke-width="2.6"/>
<path d="M507.4,347.6 L510.6,344.5 L512.1,339.9 L510.6,335.2 L513.6,336.0 L515.2,340.6 L517.5,338.3 L519.1,333.7 L520.6,336.0 L519.8,339.9 L522.9,342.2 L526.8,342.9 L521.4,344.5 L515.2,346.1 L509.8,348.4" stroke-width="1.35"/>
<path d="M581.0,351.5 L584.9,350.7 L588.0,353.0 L590.0,353.8" stroke-width="1.35"/>
<path d="M583.4,354.6 L586.4,356.9 L590.0,358.4" stroke-width="1.35"/>
<path d="M389.6,386.9 L386.8,387.8 L384.0,385.9 L380.2,386.9 L377.3,385.9 L375.4,388.8 L376.4,391.6 L374.5,394.0 L374.0,396.9 L376.4,398.7 L379.2,400.2 L382.1,402.1 L381.1,404.9 L383.5,406.3 L386.8,406.3 L390.1,407.8 L393.0,408.7 L395.3,410.6 L398.2,411.1 L400.6,410.1 L402.4,412.5 L404.3,414.9 L405.3,418.2 L406.7,418.6 L409.6,418.2 L411.4,420.6 L409.6,422.9 L408.6,425.8 L405.8,426.7 L403.9,427.6 L402.9,429.6 L402.4,431.4 L400.6,430.0 L399.6,427.6 L397.7,424.8 L395.3,423.9 L396.3,426.7 L393.4,428.6 L391.5,430.5 L388.7,433.3 L387.8,436.2 L390.1,433.8 L393.4,431.0 L396.3,427.6" stroke-width="1.35"/>
<path d="M365.0,401.1 L367.8,401.6 L369.3,403.5 L367.4,405.4 L368.8,407.8 L366.9,410.1 L369.7,411.1 L373.5,412.5 L376.4,411.1 L377.8,413.9 L380.6,415.3 L384.0,416.3 L385.9,418.2 L386.8,421.0 L388.7,423.4 L390.1,425.3 L393.0,425.8 L395.3,423.9" stroke-width="1.35"/>
<path d="M407.2,419.6 L409.6,419.3 L410.3,421.0 L408.8,423.4 L407.6,425.3" stroke-width="3.2"/>
<path d="M629.6,316.0 L630.9,324.7 L774.0,328.5" stroke-width="2.05"/>
<path d="M629.6,318.5 L635.9,322.2 L644.6,319.8 L639.6,316.0" stroke-width="1.35"/>
<path d="M588.4,362.2 L598.4,369.7 L605.9,374.7 L610.9,380.9 L612.1,388.4 L608.9,390.4 L606.4,383.4 L605.9,378.4" stroke-width="1.35"/>
<path d="M612.1,389.7 L620.9,387.9 L630.9,385.9 L633.4,382.2 L635.9,382.9 L645.9,378.4 L655.9,373.9 L663.4,374.7 L662.1,367.2 L668.4,362.2 L675.8,361.4 L683.3,362.2 L690.8,367.2 L698.3,372.2 L704.6,379.7 L709.6,384.7 L714.5,388.4 L715.8,395.9 L722.0,402.2 L728.3,409.7 L734.5,415.9 L740.8,417.1 L748.3,417.9 L752.0,425.9 L755.8,433.4 L758.3,440.9 L757.8,455.9 L755.8,474.1" stroke-width="1.35"/>
<path d="M580.9,352.2 L588.4,353.5 L595.9,351.0 L594.7,357.2 L600.9,361.0 L605.9,364.7 L607.2,368.4 L599.7,367.2 L592.2,362.2 L587.2,361.0" stroke-width="1.35"/>
<path d="M744.6,328.5 L775.5,328.9 L776.9,332.9 L777.4,338.7 L779.4,341.6 L786.1,340.7 L786.6,334.9 L787.6,329.0 L786.1,323.2 L785.2,318.4 L786.6,314.5 L789.0,312.6 L792.0,312.1 L795.8,313.6 L800.7,315.0 L805.5,316.5 L810.3,317.4 L814.2,317.9 L817.1,316.5" stroke-width="2.05"/>
<path d="M812.3,301.0 L815.2,301.9 L818.1,301.4 L819.0,304.8 L818.1,309.7 L816.6,314.5 L817.1,318.4 L818.1,323.2 L817.9,328.1 L819.0,332.9 L820.5,336.8 L822.0,342.6 L823.9,350.3 L826.8,360.0 L824.0,351.0" stroke-width="1.35"/>
<path d="M811.8,300.8 L814.2,301.7" stroke-width="2.4"/>
<path d="M809.4,335.8 L812.3,336.8 L815.2,337.3 L813.7,339.7 L810.3,339.2 L809.4,342.6 L806.5,344.5 L805.0,346.5 L807.4,348.4 L809.4,350.3 L808.4,354.2 L807.4,358.1 L806.5,360.0 L806.0,358.5 L810.2,364.7 L814.0,372.2 L815.2,378.4 L811.5,383.4 L812.7,388.4" stroke-width="1.35"/>
<path d="M811.3,341.6 L808.4,345.5 L810.3,348.4 L809.9,354.2 L808.9,360.0 L809.0,358.5 L812.7,364.7 L816.5,373.4" stroke-width="1.35"/>
<path d="M824.0,351.0 L827.7,363.4 L830.2,375.9 L838.9,390.9 L846.4,405.9 L851.4,418.4 L858.9,430.9 L866.4,440.9 L873.9,450.9 L875.9,455.9 L871.4,460.9 L870.1,468.4 L872.6,474.1" stroke-width="1.35"/>
<path d="M851.4,418.4 L856.4,428.4 L862.7,438.4 L867.7,443.4" stroke-width="1.35"/>
<path d="M860.2,444.6 L863.9,448.4 L865.2,454.6 L861.4,450.9Z" stroke-width="1.35"/>
<path d="M870.1,452.1 L871.4,458.4 L868.9,465.9 L872.6,474.1" stroke-width="1.35"/>
<path d="M809.0,393.4 L811.5,400.9 L817.7,405.9 L818.5,410.9 L814.0,412.1 L811.5,405.9Z" stroke-width="1.35"/>
<path d="M750.2,420.0 L754.2,428.1 L756.9,436.1 L758.2,446.9 L756.9,460.3 L754.2,471.1 L752.0,479.1 L752.9,487.2 L750.2,496.6 L751.5,502.0 L756.9,507.4 L760.9,508.7 L763.6,500.6 L759.6,495.3 L758.2,491.2 L763.6,489.4 L767.6,495.3 L770.3,500.6 L774.4,496.6 L773.0,492.6 L775.2,498.0 L773.0,504.7 L769.0,510.1 L766.3,515.4 L770.3,519.5 L763.6,520.8 L760.9,523.5 L766.3,527.5 L769.0,535.6 L774.4,545.0 L779.7,554.4 L785.1,562.5 L790.5,565.2 L790.5,558.4 L786.5,551.7 L793.2,554.4 L798.5,553.1 L795.9,561.1 L794.5,569.2 L797.2,575.9 L794.5,570.5 L792.4,573.2 L795.9,581.3 L799.9,584.0 L805.3,578.6 L810.6,570.5 L806.6,575.9 L803.9,582.6 L810.6,585.3 L810.6,588.0" stroke-width="1.35"/>
<path d="M812.0,446.9 L814.7,444.2 L818.2,446.3 L818.2,450.1 L814.7,452.3 L812.5,450.1Z" stroke-width="1.35"/>
<path d="M754.7,436.7 L756.9,437.7" stroke-width="2.2"/>
<path d="M871.4,474.0 L878.9,486.5 L886.4,499.0 L893.9,514.0 L898.9,526.5 L903.9,538.9 L908.9,548.9 L910.9,561.4 L910.9,588.4" stroke-width="1.35"/>
<path d="M872.6,474.0 L881.4,491.5 L891.4,511.5 L896.4,521.5" stroke-width="1.35"/>
<path d="M873.9,474.0 L882.6,489.0 L892.6,509.0 L901.4,533.9" stroke-width="1.35"/>
<path d="M851.4,550.2 L858.9,541.4 L867.7,535.2 L873.9,538.9 L877.6,548.9 L876.4,558.9 L872.6,566.4 L863.9,563.9 L855.2,556.4Z" stroke-width="1.5"/>
<path d="M833.9,489.0 L837.7,486.5 L840.2,491.5 L841.9,499.0 L837.7,495.2Z" stroke-width="1.35"/>
<path d="M835.9,522.7 L839.4,521.0 L841.9,525.2 L838.9,530.2Z" stroke-width="1.35"/>
<path d="M982.5,568.9 L988.8,561.4 L992.5,550.2 L998.8,553.9 L1008.8,555.2 L1023.8,551.4" stroke-width="1.35"/>
<path d="M982.5,568.9 L991.3,567.7 L1003.8,561.4 L1023.8,556.4" stroke-width="1.35"/>
</g>
<rect x="25.00" y="588.5" width="50.25" height="11.5" fill="#00009b" shape-rendering="crispEdges"/>
<rect x="74.95" y="588.5" width="50.25" height="11.5" fill="#0000d6" shape-rendering="crispEdges"/>
<rect x="124.90" y="588.5" width="50.25" height="11.5" fill="#0000ff" shape-rendering="crispEdges"/>
<rect x="174.85" y="588.5" width="50.25" height="11.5" fill="#0030ff" shape-rendering="crispEdges"/>
<rect x="224.80" y="588.5" width="50.25" height="11.5" fill="#0064ff" shape-rendering="crispEdges"/>
<rect x="274.75" y="588.5" width="50.25" height="11.5" fill="#0098ff" shape-rendering="crispEdges"/>
<rect x="324.70" y="588.5" width="50.25" height="11.5" fill="#00ccff" shape-rendering="crispEdges"/>
<rect x="374.65" y="588.5" width="50.25" height="11.5" fill="#16ffe1" shape-rendering="crispEdges"/>
<rect x="424.60" y="588.5" width="50.25" height="11.5" fill="#3cffba" shape-rendering="crispEdges"/>
<rect x="474.55" y="588.5" width="50.25" height="11.5" fill="#66ff90" shape-rendering="crispEdges"/>
<rect x="524.50" y="588.5" width="50.25" height="11.5" fill="#90ff66" shape-rendering="crispEdges"/>
<rect x="574.45" y="588.5" width="50.25" height="11.5" fill="#baff3c" shape-rendering="crispEdges"/>
<rect x="624.40" y="588.5" width="50.25" height="11.5" fill="#e4ff13" shape-rendering="crispEdges"/>
<rect x="674.35" y="588.5" width="50.25" height="11.5" fill="#ffde00" shape-rendering="crispEdges"/>
<rect x="724.30" y="588.5" width="50.25" height="11.5" fill="#ffae00" shape-rendering="crispEdges"/>
<rect x="774.25" y="588.5" width="50.25" height="11.5" fill="#ff7e00" shape-rendering="crispEdges"/>
<rect x="824.20" y="588.5" width="50.25" height="11.5" fill="#ff4e00" shape-rendering="crispEdges"/>
<rect x="874.15" y="588.5" width="50.25" height="11.5" fill="#ff1e00" shape-rendering="crispEdges"/>
<rect x="924.10" y="588.5" width="50.25" height="11.5" fill="#d60000" shape-rendering="crispEdges"/>
<rect x="974.05" y="588.5" width="50.25" height="11.5" fill="#9b0000" shape-rendering="crispEdges"/>
<rect x="25.0" y="9.0" width="999.0" height="591.0" fill="none" stroke="#000" stroke-width="2"/>
<rect x="25.0" y="588" width="999.0" height="1" fill="#000"/>
<rect x="23.80" y="600" width="2.4" height="4.8" fill="#000"/>
<text x="25.00" y="621" font-size="14.3" stroke="#000" stroke-width="0.8" stroke-linejoin="round" text-anchor="middle" textLength="29.6" lengthAdjust="spacingAndGlyphs">0.01</text>
<rect x="173.65" y="600" width="2.4" height="4.8" fill="#000"/>
<text x="174.85" y="621" font-size="14.3" stroke="#000" stroke-width="0.8" stroke-linejoin="round" text-anchor="middle" textLength="29.6" lengthAdjust="spacingAndGlyphs">0.16</text>
<rect x="323.50" y="600" width="2.4" height="4.8" fill="#000"/>
<text x="324.70" y="621" font-size="14.3" stroke="#000" stroke-width="0.8" stroke-linejoin="round" text-anchor="middle" textLength="29.6" lengthAdjust="spacingAndGlyphs">0.31</text>
<rect x="473.35" y="600" width="2.4" height="4.8" fill="#000"/>
<text x="474.55" y="621" font-size="14.3" stroke="#000" stroke-width="0.8" stroke-linejoin="round" text-anchor="middle" textLength="29.6" lengthAdjust="spacingAndGlyphs">0.46</text>
<rect x="623.20" y="600" width="2.4" height="4.8" fill="#000"/>
<text x="624.40" y="621" font-size="14.3" stroke="#000" stroke-width="0.8" stroke-linejoin="round" text-anchor="middle" textLength="29.6" lengthAdjust="spacingAndGlyphs">0.61</text>
<rect x="773.05" y="600" width="2.4" height="4.8" fill="#000"/>
<text x="774.25" y="621" font-size="14.3" stroke="#000" stroke-width="0.8" stroke-linejoin="round" text-anchor="middle" textLength="29.6" lengthAdjust="spacingAndGlyphs">0.76</text>
<rect x="922.90" y="600" width="2.4" height="4.8" fill="#000"/>
<text x="924.10" y="621" font-size="14.3" stroke="#000" stroke-width="0.8" stroke-linejoin="round" text-anchor="middle" textLength="29.6" lengthAdjust="spacingAndGlyphs">0.91</text>
<rect x="186.3" y="13.6" width="676.7" height="25.6" fill="#fff" stroke="#000" stroke-width="1.1"/>
<text x="191.3" y="30.7" font-size="15.8" stroke="#000" stroke-width="0.55" stroke-linejoin="round" font-weight="bold" font-style="italic" textLength="56.2" lengthAdjust="spacingAndGlyphs">Hourly</text>
<text x="253.7" y="30.7" font-size="15.8" stroke="#000" stroke-width="0.55" stroke-linejoin="round" font-weight="bold" font-style="italic" textLength="107.9" lengthAdjust="spacingAndGlyphs">Precipitation</text>
<text x="368.9" y="30.7" font-size="15.8" stroke="#000" stroke-width="0.55" stroke-linejoin="round" font-weight="bold" font-style="italic" textLength="36.3" lengthAdjust="spacingAndGlyphs">0.25</text>
<text x="412.1" y="30.7" font-size="15.8" stroke="#000" stroke-width="0.55" stroke-linejoin="round" font-weight="bold" font-style="italic" textLength="52.7" lengthAdjust="spacingAndGlyphs">mm/hr</text>
<text x="473.3" y="30.7" font-size="15.8" stroke="#000" stroke-width="0.55" stroke-linejoin="round" font-weight="bold" font-style="italic" textLength="31.9" lengthAdjust="spacingAndGlyphs">NEP</text>
<text x="512.7" y="30.7" font-size="15.8" stroke="#000" stroke-width="0.55" stroke-linejoin="round" font-weight="bold" font-style="italic" textLength="52.7" lengthAdjust="spacingAndGlyphs">(40km</text>
<text x="572.2" y="30.7" font-size="15.8" stroke="#000" stroke-width="0.55" stroke-linejoin="round" font-weight="bold" font-style="italic" textLength="58.7" lengthAdjust="spacingAndGlyphs">radius)</text>
<text x="638.3" y="30.7" font-size="15.8" stroke="#000" stroke-width="0.55" stroke-linejoin="round" font-weight="bold" font-style="italic" textLength="46.5" lengthAdjust="spacingAndGlyphs">Valid:</text>
<text x="691.8" y="30.7" font-size="15.8" stroke="#000" stroke-width="0.55" stroke-linejoin="round" font-weight="bold" font-style="italic" textLength="164.9" lengthAdjust="spacingAndGlyphs">202105110000f000</text>
</svg></body></html>
